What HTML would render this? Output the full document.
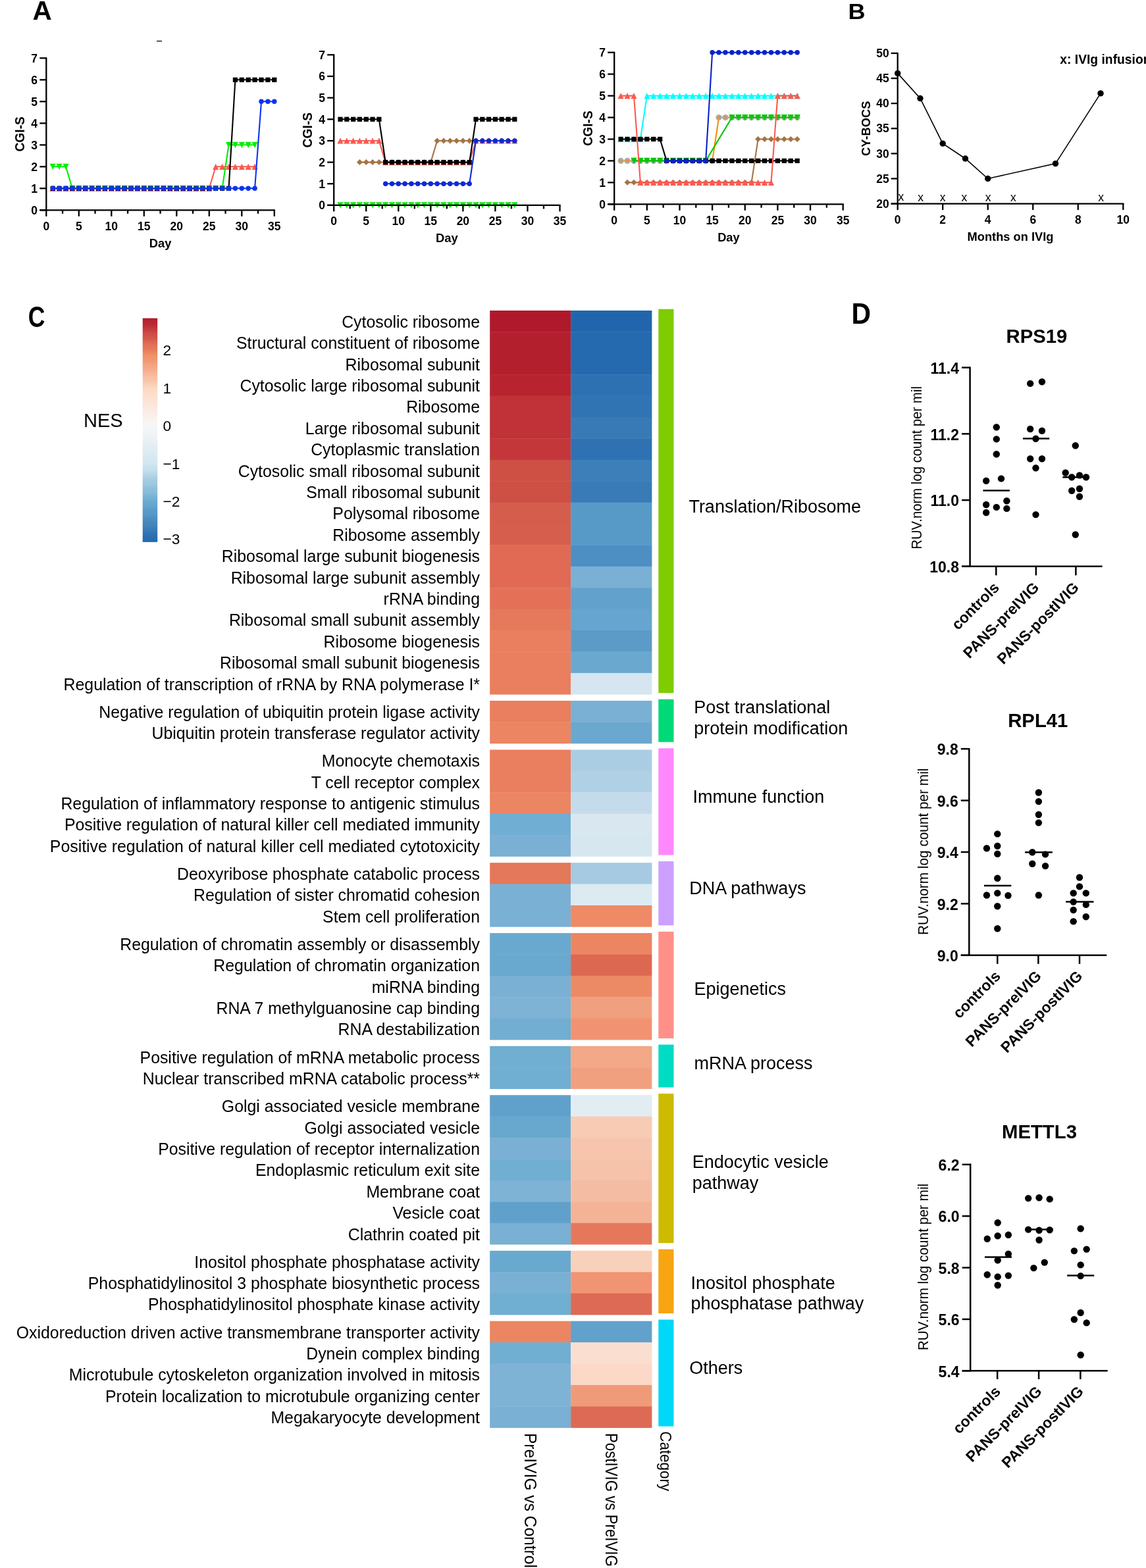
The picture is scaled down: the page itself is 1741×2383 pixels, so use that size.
<!DOCTYPE html>
<html lang="en"><head><meta charset="utf-8"><title>Figure</title>
<style>
html,body{margin:0;padding:0;background:#fff;width:1741px;height:2383px;overflow:hidden;}
svg{display:block;}
text{font-family:"Liberation Sans", Arial, Helvetica, sans-serif;fill:#000;}
</style></head><body>
<svg width="1741" height="2383" viewBox="0 0 1741 2383">
<rect x="0" y="0" width="1741" height="2383" fill="#fff"/>
<path d="M80.2 286.3 L90.1 286.3 L100 286.3 L109.9 286.3 L119.8 286.3 L129.7 286.3 L139.6 286.3 L149.5 286.3 L159.4 286.3 L169.3 286.3 L179.2 286.3 L189.1 286.3 L199 286.3 L208.9 286.3 L218.8 286.3 L228.7 286.3 L238.6 286.3 L248.5 286.3 L258.4 286.3 L268.3 286.3 L278.2 286.3 L288.1 286.3 L298 286.3 L307.9 286.3 L317.8 286.3 L327.7 253.3 L337.6 253.3 L347.5 253.3 L357.4 253.3 L367.3 253.3 L377.2 253.3 L387.1 253.3" fill="none" stroke="#fb5a50" stroke-width="2.1" stroke-linejoin="round"/>
<path d="M80.2 281.7L84.8 290.9L75.6 290.9Z" fill="#fb5a50"/>
<path d="M90.1 281.7L94.7 290.9L85.5 290.9Z" fill="#fb5a50"/>
<path d="M100 281.7L104.6 290.9L95.4 290.9Z" fill="#fb5a50"/>
<path d="M109.9 281.7L114.5 290.9L105.3 290.9Z" fill="#fb5a50"/>
<path d="M119.8 281.7L124.4 290.9L115.2 290.9Z" fill="#fb5a50"/>
<path d="M129.7 281.7L134.3 290.9L125.1 290.9Z" fill="#fb5a50"/>
<path d="M139.6 281.7L144.2 290.9L135 290.9Z" fill="#fb5a50"/>
<path d="M149.5 281.7L154.1 290.9L144.9 290.9Z" fill="#fb5a50"/>
<path d="M159.4 281.7L164 290.9L154.8 290.9Z" fill="#fb5a50"/>
<path d="M169.3 281.7L173.9 290.9L164.7 290.9Z" fill="#fb5a50"/>
<path d="M179.2 281.7L183.8 290.9L174.6 290.9Z" fill="#fb5a50"/>
<path d="M189.1 281.7L193.7 290.9L184.5 290.9Z" fill="#fb5a50"/>
<path d="M199 281.7L203.6 290.9L194.4 290.9Z" fill="#fb5a50"/>
<path d="M208.9 281.7L213.5 290.9L204.3 290.9Z" fill="#fb5a50"/>
<path d="M218.8 281.7L223.4 290.9L214.2 290.9Z" fill="#fb5a50"/>
<path d="M228.7 281.7L233.3 290.9L224.1 290.9Z" fill="#fb5a50"/>
<path d="M238.6 281.7L243.2 290.9L234 290.9Z" fill="#fb5a50"/>
<path d="M248.5 281.7L253.1 290.9L243.9 290.9Z" fill="#fb5a50"/>
<path d="M258.4 281.7L263 290.9L253.8 290.9Z" fill="#fb5a50"/>
<path d="M268.3 281.7L272.9 290.9L263.7 290.9Z" fill="#fb5a50"/>
<path d="M278.2 281.7L282.8 290.9L273.6 290.9Z" fill="#fb5a50"/>
<path d="M288.1 281.7L292.7 290.9L283.5 290.9Z" fill="#fb5a50"/>
<path d="M298 281.7L302.6 290.9L293.4 290.9Z" fill="#fb5a50"/>
<path d="M307.9 281.7L312.5 290.9L303.3 290.9Z" fill="#fb5a50"/>
<path d="M317.8 281.7L322.4 290.9L313.2 290.9Z" fill="#fb5a50"/>
<path d="M327.7 248.7L332.3 257.9L323.1 257.9Z" fill="#fb5a50"/>
<path d="M337.6 248.7L342.2 257.9L333 257.9Z" fill="#fb5a50"/>
<path d="M347.5 248.7L352.1 257.9L342.9 257.9Z" fill="#fb5a50"/>
<path d="M357.4 248.7L362 257.9L352.8 257.9Z" fill="#fb5a50"/>
<path d="M367.3 248.7L371.9 257.9L362.7 257.9Z" fill="#fb5a50"/>
<path d="M377.2 248.7L381.8 257.9L372.6 257.9Z" fill="#fb5a50"/>
<path d="M387.1 248.7L391.7 257.9L382.5 257.9Z" fill="#fb5a50"/>
<path d="M80.2 253.3 L90.1 253.3 L100 253.3 L109.9 286.3 L119.8 286.3 L129.7 286.3 L139.6 286.3 L149.5 286.3 L159.4 286.3 L169.3 286.3 L179.2 286.3 L189.1 286.3 L199 286.3 L208.9 286.3 L218.8 286.3 L228.7 286.3 L238.6 286.3 L248.5 286.3 L258.4 286.3 L268.3 286.3 L278.2 286.3 L288.1 286.3 L298 286.3 L307.9 286.3 L317.8 286.3 L327.7 286.3 L337.6 286.3 L347.5 220.3 L357.4 220.3 L367.3 220.3 L377.2 220.3 L387.1 220.3" fill="none" stroke="#00ee00" stroke-width="2.1" stroke-linejoin="round"/>
<path d="M75.6 248.7L84.8 248.7L80.2 257.9Z" fill="#00ee00"/>
<path d="M85.5 248.7L94.7 248.7L90.1 257.9Z" fill="#00ee00"/>
<path d="M95.4 248.7L104.6 248.7L100 257.9Z" fill="#00ee00"/>
<path d="M105.3 281.7L114.5 281.7L109.9 290.9Z" fill="#00ee00"/>
<path d="M115.2 281.7L124.4 281.7L119.8 290.9Z" fill="#00ee00"/>
<path d="M125.1 281.7L134.3 281.7L129.7 290.9Z" fill="#00ee00"/>
<path d="M135 281.7L144.2 281.7L139.6 290.9Z" fill="#00ee00"/>
<path d="M144.9 281.7L154.1 281.7L149.5 290.9Z" fill="#00ee00"/>
<path d="M154.8 281.7L164 281.7L159.4 290.9Z" fill="#00ee00"/>
<path d="M164.7 281.7L173.9 281.7L169.3 290.9Z" fill="#00ee00"/>
<path d="M174.6 281.7L183.8 281.7L179.2 290.9Z" fill="#00ee00"/>
<path d="M184.5 281.7L193.7 281.7L189.1 290.9Z" fill="#00ee00"/>
<path d="M194.4 281.7L203.6 281.7L199 290.9Z" fill="#00ee00"/>
<path d="M204.3 281.7L213.5 281.7L208.9 290.9Z" fill="#00ee00"/>
<path d="M214.2 281.7L223.4 281.7L218.8 290.9Z" fill="#00ee00"/>
<path d="M224.1 281.7L233.3 281.7L228.7 290.9Z" fill="#00ee00"/>
<path d="M234 281.7L243.2 281.7L238.6 290.9Z" fill="#00ee00"/>
<path d="M243.9 281.7L253.1 281.7L248.5 290.9Z" fill="#00ee00"/>
<path d="M253.8 281.7L263 281.7L258.4 290.9Z" fill="#00ee00"/>
<path d="M263.7 281.7L272.9 281.7L268.3 290.9Z" fill="#00ee00"/>
<path d="M273.6 281.7L282.8 281.7L278.2 290.9Z" fill="#00ee00"/>
<path d="M283.5 281.7L292.7 281.7L288.1 290.9Z" fill="#00ee00"/>
<path d="M293.4 281.7L302.6 281.7L298 290.9Z" fill="#00ee00"/>
<path d="M303.3 281.7L312.5 281.7L307.9 290.9Z" fill="#00ee00"/>
<path d="M313.2 281.7L322.4 281.7L317.8 290.9Z" fill="#00ee00"/>
<path d="M323.1 281.7L332.3 281.7L327.7 290.9Z" fill="#00ee00"/>
<path d="M333 281.7L342.2 281.7L337.6 290.9Z" fill="#00ee00"/>
<path d="M342.9 215.7L352.1 215.7L347.5 224.9Z" fill="#00ee00"/>
<path d="M352.8 215.7L362 215.7L357.4 224.9Z" fill="#00ee00"/>
<path d="M362.7 215.7L371.9 215.7L367.3 224.9Z" fill="#00ee00"/>
<path d="M372.6 215.7L381.8 215.7L377.2 224.9Z" fill="#00ee00"/>
<path d="M382.5 215.7L391.7 215.7L387.1 224.9Z" fill="#00ee00"/>
<path d="M80.2 286.3 L90.1 286.3 L100 286.3 L109.9 286.3 L119.8 286.3 L129.7 286.3 L139.6 286.3 L149.5 286.3 L159.4 286.3 L169.3 286.3 L179.2 286.3 L189.1 286.3 L199 286.3 L208.9 286.3 L218.8 286.3 L228.7 286.3 L238.6 286.3 L248.5 286.3 L258.4 286.3 L268.3 286.3 L278.2 286.3 L288.1 286.3 L298 286.3 L307.9 286.3 L317.8 286.3 L327.7 286.3 L337.6 286.3 L347.5 286.3 L357.4 121.3 L367.3 121.3 L377.2 121.3 L387.1 121.3 L397 121.3 L406.9 121.3 L416.8 121.3" fill="none" stroke="#000" stroke-width="2.1" stroke-linejoin="round"/>
<rect x="76.6" y="282.7" width="7.2" height="7.2" fill="#000"/>
<rect x="86.5" y="282.7" width="7.2" height="7.2" fill="#000"/>
<rect x="96.4" y="282.7" width="7.2" height="7.2" fill="#000"/>
<rect x="106.3" y="282.7" width="7.2" height="7.2" fill="#000"/>
<rect x="116.2" y="282.7" width="7.2" height="7.2" fill="#000"/>
<rect x="126.1" y="282.7" width="7.2" height="7.2" fill="#000"/>
<rect x="136" y="282.7" width="7.2" height="7.2" fill="#000"/>
<rect x="145.9" y="282.7" width="7.2" height="7.2" fill="#000"/>
<rect x="155.8" y="282.7" width="7.2" height="7.2" fill="#000"/>
<rect x="165.7" y="282.7" width="7.2" height="7.2" fill="#000"/>
<rect x="175.6" y="282.7" width="7.2" height="7.2" fill="#000"/>
<rect x="185.5" y="282.7" width="7.2" height="7.2" fill="#000"/>
<rect x="195.4" y="282.7" width="7.2" height="7.2" fill="#000"/>
<rect x="205.3" y="282.7" width="7.2" height="7.2" fill="#000"/>
<rect x="215.2" y="282.7" width="7.2" height="7.2" fill="#000"/>
<rect x="225.1" y="282.7" width="7.2" height="7.2" fill="#000"/>
<rect x="235" y="282.7" width="7.2" height="7.2" fill="#000"/>
<rect x="244.9" y="282.7" width="7.2" height="7.2" fill="#000"/>
<rect x="254.8" y="282.7" width="7.2" height="7.2" fill="#000"/>
<rect x="264.7" y="282.7" width="7.2" height="7.2" fill="#000"/>
<rect x="274.6" y="282.7" width="7.2" height="7.2" fill="#000"/>
<rect x="284.5" y="282.7" width="7.2" height="7.2" fill="#000"/>
<rect x="294.4" y="282.7" width="7.2" height="7.2" fill="#000"/>
<rect x="304.3" y="282.7" width="7.2" height="7.2" fill="#000"/>
<rect x="314.2" y="282.7" width="7.2" height="7.2" fill="#000"/>
<rect x="324.1" y="282.7" width="7.2" height="7.2" fill="#000"/>
<rect x="334" y="282.7" width="7.2" height="7.2" fill="#000"/>
<rect x="343.9" y="282.7" width="7.2" height="7.2" fill="#000"/>
<rect x="353.8" y="117.7" width="7.2" height="7.2" fill="#000"/>
<rect x="363.7" y="117.7" width="7.2" height="7.2" fill="#000"/>
<rect x="373.6" y="117.7" width="7.2" height="7.2" fill="#000"/>
<rect x="383.5" y="117.7" width="7.2" height="7.2" fill="#000"/>
<rect x="393.4" y="117.7" width="7.2" height="7.2" fill="#000"/>
<rect x="403.3" y="117.7" width="7.2" height="7.2" fill="#000"/>
<rect x="413.2" y="117.7" width="7.2" height="7.2" fill="#000"/>
<path d="M80.2 286.3 L90.1 286.3 L100 286.3 L109.9 286.3 L119.8 286.3 L129.7 286.3 L139.6 286.3 L149.5 286.3 L159.4 286.3 L169.3 286.3 L179.2 286.3 L189.1 286.3 L199 286.3 L208.9 286.3 L218.8 286.3 L228.7 286.3 L238.6 286.3 L248.5 286.3 L258.4 286.3 L268.3 286.3 L278.2 286.3 L288.1 286.3 L298 286.3 L307.9 286.3 L317.8 286.3 L327.7 286.3 L337.6 286.3 L347.5 286.3 L357.4 286.3 L367.3 286.3 L377.2 286.3 L387.1 286.3 L397 154.3 L406.9 154.3 L416.8 154.3" fill="none" stroke="#0a33f5" stroke-width="2.1" stroke-linejoin="round"/>
<circle cx="80.2" cy="286.3" r="3.7" fill="#0a33f5"/>
<circle cx="90.1" cy="286.3" r="3.7" fill="#0a33f5"/>
<circle cx="100" cy="286.3" r="3.7" fill="#0a33f5"/>
<circle cx="109.9" cy="286.3" r="3.7" fill="#0a33f5"/>
<circle cx="119.8" cy="286.3" r="3.7" fill="#0a33f5"/>
<circle cx="129.7" cy="286.3" r="3.7" fill="#0a33f5"/>
<circle cx="139.6" cy="286.3" r="3.7" fill="#0a33f5"/>
<circle cx="149.5" cy="286.3" r="3.7" fill="#0a33f5"/>
<circle cx="159.4" cy="286.3" r="3.7" fill="#0a33f5"/>
<circle cx="169.3" cy="286.3" r="3.7" fill="#0a33f5"/>
<circle cx="179.2" cy="286.3" r="3.7" fill="#0a33f5"/>
<circle cx="189.1" cy="286.3" r="3.7" fill="#0a33f5"/>
<circle cx="199" cy="286.3" r="3.7" fill="#0a33f5"/>
<circle cx="208.9" cy="286.3" r="3.7" fill="#0a33f5"/>
<circle cx="218.8" cy="286.3" r="3.7" fill="#0a33f5"/>
<circle cx="228.7" cy="286.3" r="3.7" fill="#0a33f5"/>
<circle cx="238.6" cy="286.3" r="3.7" fill="#0a33f5"/>
<circle cx="248.5" cy="286.3" r="3.7" fill="#0a33f5"/>
<circle cx="258.4" cy="286.3" r="3.7" fill="#0a33f5"/>
<circle cx="268.3" cy="286.3" r="3.7" fill="#0a33f5"/>
<circle cx="278.2" cy="286.3" r="3.7" fill="#0a33f5"/>
<circle cx="288.1" cy="286.3" r="3.7" fill="#0a33f5"/>
<circle cx="298" cy="286.3" r="3.7" fill="#0a33f5"/>
<circle cx="307.9" cy="286.3" r="3.7" fill="#0a33f5"/>
<circle cx="317.8" cy="286.3" r="3.7" fill="#0a33f5"/>
<circle cx="327.7" cy="286.3" r="3.7" fill="#0a33f5"/>
<circle cx="337.6" cy="286.3" r="3.7" fill="#0a33f5"/>
<circle cx="347.5" cy="286.3" r="3.7" fill="#0a33f5"/>
<circle cx="357.4" cy="286.3" r="3.7" fill="#0a33f5"/>
<circle cx="367.3" cy="286.3" r="3.7" fill="#0a33f5"/>
<circle cx="377.2" cy="286.3" r="3.7" fill="#0a33f5"/>
<circle cx="387.1" cy="286.3" r="3.7" fill="#0a33f5"/>
<circle cx="397" cy="154.3" r="3.7" fill="#0a33f5"/>
<circle cx="406.9" cy="154.3" r="3.7" fill="#0a33f5"/>
<circle cx="416.8" cy="154.3" r="3.7" fill="#0a33f5"/>
<g stroke="#000" stroke-width="2.3" fill="none" stroke-linecap="butt">
<path d="M70.3 87.3 V320.4"/>
<path d="M60.3 319.3 H417.9"/>
<path d="M60.3 319.3 H70.3"/>
<path d="M60.3 286.3 H70.3"/>
<path d="M60.3 253.3 H70.3"/>
<path d="M60.3 220.3 H70.3"/>
<path d="M60.3 187.3 H70.3"/>
<path d="M60.3 154.3 H70.3"/>
<path d="M60.3 121.3 H70.3"/>
<path d="M60.3 88.3 H70.3"/>
<path d="M70.3 319.3 V328.8"/>
<path d="M95.05 319.3 V324.8"/>
<path d="M119.8 319.3 V328.8"/>
<path d="M144.55 319.3 V324.8"/>
<path d="M169.3 319.3 V328.8"/>
<path d="M194.05 319.3 V324.8"/>
<path d="M218.8 319.3 V328.8"/>
<path d="M243.55 319.3 V324.8"/>
<path d="M268.3 319.3 V328.8"/>
<path d="M293.05 319.3 V324.8"/>
<path d="M317.8 319.3 V328.8"/>
<path d="M342.55 319.3 V324.8"/>
<path d="M367.3 319.3 V328.8"/>
<path d="M392.05 319.3 V324.8"/>
<path d="M416.8 319.3 V328.8"/>
</g>
<text x="57.1" y="325.6" font-size="17.5" font-weight="bold" text-anchor="end">0</text>
<text x="57.1" y="292.6" font-size="17.5" font-weight="bold" text-anchor="end">1</text>
<text x="57.1" y="259.6" font-size="17.5" font-weight="bold" text-anchor="end">2</text>
<text x="57.1" y="226.6" font-size="17.5" font-weight="bold" text-anchor="end">3</text>
<text x="57.1" y="193.6" font-size="17.5" font-weight="bold" text-anchor="end">4</text>
<text x="57.1" y="160.6" font-size="17.5" font-weight="bold" text-anchor="end">5</text>
<text x="57.1" y="127.6" font-size="17.5" font-weight="bold" text-anchor="end">6</text>
<text x="57.1" y="94.6" font-size="17.5" font-weight="bold" text-anchor="end">7</text>
<text x="70.3" y="349.5" font-size="17.5" font-weight="bold" text-anchor="middle">0</text>
<text x="119.8" y="349.5" font-size="17.5" font-weight="bold" text-anchor="middle">5</text>
<text x="169.3" y="349.5" font-size="17.5" font-weight="bold" text-anchor="middle">10</text>
<text x="218.8" y="349.5" font-size="17.5" font-weight="bold" text-anchor="middle">15</text>
<text x="268.3" y="349.5" font-size="17.5" font-weight="bold" text-anchor="middle">20</text>
<text x="317.8" y="349.5" font-size="17.5" font-weight="bold" text-anchor="middle">25</text>
<text x="367.3" y="349.5" font-size="17.5" font-weight="bold" text-anchor="middle">30</text>
<text x="416.8" y="349.5" font-size="17.5" font-weight="bold" text-anchor="middle">35</text>
<text x="243.55" y="375.8" font-size="18.3" font-weight="bold" text-anchor="middle">Day</text>
<text x="36.7" y="203.8" font-size="19.3" font-weight="bold" text-anchor="middle" transform="rotate(-90 36.7 203.8)">CGI-S</text>
<path d="M517.01 311.9 L526.82 311.9 L536.63 311.9 L546.43 311.9 L556.24 311.9 L566.05 311.9 L575.86 311.9 L585.67 311.9 L595.48 311.9 L605.29 311.9 L615.09 311.9 L624.9 311.9 L634.71 311.9 L644.52 311.9 L654.33 311.9 L664.14 311.9 L673.95 311.9 L683.75 311.9 L693.56 311.9 L703.37 311.9 L713.18 311.9 L722.99 311.9 L732.8 311.9 L742.61 311.9 L752.41 311.9 L762.22 311.9 L772.03 311.9 L781.84 311.9" fill="none" stroke="#00ee00" stroke-width="2.1" stroke-linejoin="round"/>
<path d="M512.41 307.3L521.61 307.3L517.01 316.5Z" fill="#00ee00"/>
<path d="M522.22 307.3L531.42 307.3L526.82 316.5Z" fill="#00ee00"/>
<path d="M532.03 307.3L541.23 307.3L536.63 316.5Z" fill="#00ee00"/>
<path d="M541.83 307.3L551.03 307.3L546.43 316.5Z" fill="#00ee00"/>
<path d="M551.64 307.3L560.84 307.3L556.24 316.5Z" fill="#00ee00"/>
<path d="M561.45 307.3L570.65 307.3L566.05 316.5Z" fill="#00ee00"/>
<path d="M571.26 307.3L580.46 307.3L575.86 316.5Z" fill="#00ee00"/>
<path d="M581.07 307.3L590.27 307.3L585.67 316.5Z" fill="#00ee00"/>
<path d="M590.88 307.3L600.08 307.3L595.48 316.5Z" fill="#00ee00"/>
<path d="M600.69 307.3L609.89 307.3L605.29 316.5Z" fill="#00ee00"/>
<path d="M610.49 307.3L619.69 307.3L615.09 316.5Z" fill="#00ee00"/>
<path d="M620.3 307.3L629.5 307.3L624.9 316.5Z" fill="#00ee00"/>
<path d="M630.11 307.3L639.31 307.3L634.71 316.5Z" fill="#00ee00"/>
<path d="M639.92 307.3L649.12 307.3L644.52 316.5Z" fill="#00ee00"/>
<path d="M649.73 307.3L658.93 307.3L654.33 316.5Z" fill="#00ee00"/>
<path d="M659.54 307.3L668.74 307.3L664.14 316.5Z" fill="#00ee00"/>
<path d="M669.35 307.3L678.55 307.3L673.95 316.5Z" fill="#00ee00"/>
<path d="M679.15 307.3L688.35 307.3L683.75 316.5Z" fill="#00ee00"/>
<path d="M688.96 307.3L698.16 307.3L693.56 316.5Z" fill="#00ee00"/>
<path d="M698.77 307.3L707.97 307.3L703.37 316.5Z" fill="#00ee00"/>
<path d="M708.58 307.3L717.78 307.3L713.18 316.5Z" fill="#00ee00"/>
<path d="M718.39 307.3L727.59 307.3L722.99 316.5Z" fill="#00ee00"/>
<path d="M728.2 307.3L737.4 307.3L732.8 316.5Z" fill="#00ee00"/>
<path d="M738.01 307.3L747.21 307.3L742.61 316.5Z" fill="#00ee00"/>
<path d="M747.81 307.3L757.01 307.3L752.41 316.5Z" fill="#00ee00"/>
<path d="M757.62 307.3L766.82 307.3L762.22 316.5Z" fill="#00ee00"/>
<path d="M767.43 307.3L776.63 307.3L772.03 316.5Z" fill="#00ee00"/>
<path d="M777.24 307.3L786.44 307.3L781.84 316.5Z" fill="#00ee00"/>
<path d="M546.43 246.59 L556.24 246.59 L566.05 246.59 L575.86 246.59 L585.67 246.59 L595.48 246.59 L605.29 246.59 L615.09 246.59 L624.9 246.59 L634.71 246.59 L644.52 246.59 L654.33 246.59 L664.14 213.93 L673.95 213.93 L683.75 213.93 L693.56 213.93 L703.37 213.93 L713.18 213.93 L722.99 213.93 L732.8 213.93 L742.61 213.93 L752.41 213.93 L762.22 213.93 L772.03 213.93 L781.84 213.93" fill="none" stroke="#a57444" stroke-width="2.1" stroke-linejoin="round"/>
<path d="M546.43 242.09L550.93 246.59L546.43 251.09L541.93 246.59Z" fill="#a57444"/>
<path d="M556.24 242.09L560.74 246.59L556.24 251.09L551.74 246.59Z" fill="#a57444"/>
<path d="M566.05 242.09L570.55 246.59L566.05 251.09L561.55 246.59Z" fill="#a57444"/>
<path d="M575.86 242.09L580.36 246.59L575.86 251.09L571.36 246.59Z" fill="#a57444"/>
<path d="M585.67 242.09L590.17 246.59L585.67 251.09L581.17 246.59Z" fill="#a57444"/>
<path d="M595.48 242.09L599.98 246.59L595.48 251.09L590.98 246.59Z" fill="#a57444"/>
<path d="M605.29 242.09L609.79 246.59L605.29 251.09L600.79 246.59Z" fill="#a57444"/>
<path d="M615.09 242.09L619.59 246.59L615.09 251.09L610.59 246.59Z" fill="#a57444"/>
<path d="M624.9 242.09L629.4 246.59L624.9 251.09L620.4 246.59Z" fill="#a57444"/>
<path d="M634.71 242.09L639.21 246.59L634.71 251.09L630.21 246.59Z" fill="#a57444"/>
<path d="M644.52 242.09L649.02 246.59L644.52 251.09L640.02 246.59Z" fill="#a57444"/>
<path d="M654.33 242.09L658.83 246.59L654.33 251.09L649.83 246.59Z" fill="#a57444"/>
<path d="M664.14 209.43L668.64 213.93L664.14 218.43L659.64 213.93Z" fill="#a57444"/>
<path d="M673.95 209.43L678.45 213.93L673.95 218.43L669.45 213.93Z" fill="#a57444"/>
<path d="M683.75 209.43L688.25 213.93L683.75 218.43L679.25 213.93Z" fill="#a57444"/>
<path d="M693.56 209.43L698.06 213.93L693.56 218.43L689.06 213.93Z" fill="#a57444"/>
<path d="M703.37 209.43L707.87 213.93L703.37 218.43L698.87 213.93Z" fill="#a57444"/>
<path d="M713.18 209.43L717.68 213.93L713.18 218.43L708.68 213.93Z" fill="#a57444"/>
<path d="M722.99 209.43L727.49 213.93L722.99 218.43L718.49 213.93Z" fill="#a57444"/>
<path d="M732.8 209.43L737.3 213.93L732.8 218.43L728.3 213.93Z" fill="#a57444"/>
<path d="M742.61 209.43L747.11 213.93L742.61 218.43L738.11 213.93Z" fill="#a57444"/>
<path d="M752.41 209.43L756.91 213.93L752.41 218.43L747.91 213.93Z" fill="#a57444"/>
<path d="M762.22 209.43L766.72 213.93L762.22 218.43L757.72 213.93Z" fill="#a57444"/>
<path d="M772.03 209.43L776.53 213.93L772.03 218.43L767.53 213.93Z" fill="#a57444"/>
<path d="M781.84 209.43L786.34 213.93L781.84 218.43L777.34 213.93Z" fill="#a57444"/>
<path d="M517.01 213.93 L526.82 213.93 L536.63 213.93 L546.43 213.93 L556.24 213.93 L566.05 213.93 L575.86 213.93 L585.67 246.59 L595.48 246.59 L605.29 246.59 L615.09 246.59 L624.9 246.59 L634.71 246.59 L644.52 246.59 L654.33 246.59 L664.14 246.59 L673.95 246.59 L683.75 246.59 L693.56 246.59 L703.37 246.59 L713.18 246.59 L722.99 213.93 L732.8 213.93 L742.61 213.93 L752.41 213.93 L762.22 213.93 L772.03 213.93 L781.84 213.93" fill="none" stroke="#fb5a50" stroke-width="2.1" stroke-linejoin="round"/>
<path d="M517.01 209.33L521.61 218.53L512.41 218.53Z" fill="#fb5a50"/>
<path d="M526.82 209.33L531.42 218.53L522.22 218.53Z" fill="#fb5a50"/>
<path d="M536.63 209.33L541.23 218.53L532.03 218.53Z" fill="#fb5a50"/>
<path d="M546.43 209.33L551.03 218.53L541.83 218.53Z" fill="#fb5a50"/>
<path d="M556.24 209.33L560.84 218.53L551.64 218.53Z" fill="#fb5a50"/>
<path d="M566.05 209.33L570.65 218.53L561.45 218.53Z" fill="#fb5a50"/>
<path d="M575.86 209.33L580.46 218.53L571.26 218.53Z" fill="#fb5a50"/>
<path d="M585.67 241.99L590.27 251.19L581.07 251.19Z" fill="#fb5a50"/>
<path d="M595.48 241.99L600.08 251.19L590.88 251.19Z" fill="#fb5a50"/>
<path d="M605.29 241.99L609.89 251.19L600.69 251.19Z" fill="#fb5a50"/>
<path d="M615.09 241.99L619.69 251.19L610.49 251.19Z" fill="#fb5a50"/>
<path d="M624.9 241.99L629.5 251.19L620.3 251.19Z" fill="#fb5a50"/>
<path d="M634.71 241.99L639.31 251.19L630.11 251.19Z" fill="#fb5a50"/>
<path d="M644.52 241.99L649.12 251.19L639.92 251.19Z" fill="#fb5a50"/>
<path d="M654.33 241.99L658.93 251.19L649.73 251.19Z" fill="#fb5a50"/>
<path d="M664.14 241.99L668.74 251.19L659.54 251.19Z" fill="#fb5a50"/>
<path d="M673.95 241.99L678.55 251.19L669.35 251.19Z" fill="#fb5a50"/>
<path d="M683.75 241.99L688.35 251.19L679.15 251.19Z" fill="#fb5a50"/>
<path d="M693.56 241.99L698.16 251.19L688.96 251.19Z" fill="#fb5a50"/>
<path d="M703.37 241.99L707.97 251.19L698.77 251.19Z" fill="#fb5a50"/>
<path d="M713.18 241.99L717.78 251.19L708.58 251.19Z" fill="#fb5a50"/>
<path d="M722.99 209.33L727.59 218.53L718.39 218.53Z" fill="#fb5a50"/>
<path d="M732.8 209.33L737.4 218.53L728.2 218.53Z" fill="#fb5a50"/>
<path d="M742.61 209.33L747.21 218.53L738.01 218.53Z" fill="#fb5a50"/>
<path d="M752.41 209.33L757.01 218.53L747.81 218.53Z" fill="#fb5a50"/>
<path d="M762.22 209.33L766.82 218.53L757.62 218.53Z" fill="#fb5a50"/>
<path d="M772.03 209.33L776.63 218.53L767.43 218.53Z" fill="#fb5a50"/>
<path d="M781.84 209.33L786.44 218.53L777.24 218.53Z" fill="#fb5a50"/>
<path d="M517.01 181.27 L526.82 181.27 L536.63 181.27 L546.43 181.27 L556.24 181.27 L566.05 181.27 L575.86 181.27 L585.67 246.59 L595.48 246.59 L605.29 246.59 L615.09 246.59 L624.9 246.59 L634.71 246.59 L644.52 246.59 L654.33 246.59 L664.14 246.59 L673.95 246.59 L683.75 246.59 L693.56 246.59 L703.37 246.59 L713.18 246.59 L722.99 181.27 L732.8 181.27 L742.61 181.27 L752.41 181.27 L762.22 181.27 L772.03 181.27 L781.84 181.27" fill="none" stroke="#000" stroke-width="2.1" stroke-linejoin="round"/>
<rect x="513.41" y="177.67" width="7.2" height="7.2" fill="#000"/>
<rect x="523.22" y="177.67" width="7.2" height="7.2" fill="#000"/>
<rect x="533.03" y="177.67" width="7.2" height="7.2" fill="#000"/>
<rect x="542.83" y="177.67" width="7.2" height="7.2" fill="#000"/>
<rect x="552.64" y="177.67" width="7.2" height="7.2" fill="#000"/>
<rect x="562.45" y="177.67" width="7.2" height="7.2" fill="#000"/>
<rect x="572.26" y="177.67" width="7.2" height="7.2" fill="#000"/>
<rect x="582.07" y="242.99" width="7.2" height="7.2" fill="#000"/>
<rect x="591.88" y="242.99" width="7.2" height="7.2" fill="#000"/>
<rect x="601.69" y="242.99" width="7.2" height="7.2" fill="#000"/>
<rect x="611.49" y="242.99" width="7.2" height="7.2" fill="#000"/>
<rect x="621.3" y="242.99" width="7.2" height="7.2" fill="#000"/>
<rect x="631.11" y="242.99" width="7.2" height="7.2" fill="#000"/>
<rect x="640.92" y="242.99" width="7.2" height="7.2" fill="#000"/>
<rect x="650.73" y="242.99" width="7.2" height="7.2" fill="#000"/>
<rect x="660.54" y="242.99" width="7.2" height="7.2" fill="#000"/>
<rect x="670.35" y="242.99" width="7.2" height="7.2" fill="#000"/>
<rect x="680.15" y="242.99" width="7.2" height="7.2" fill="#000"/>
<rect x="689.96" y="242.99" width="7.2" height="7.2" fill="#000"/>
<rect x="699.77" y="242.99" width="7.2" height="7.2" fill="#000"/>
<rect x="709.58" y="242.99" width="7.2" height="7.2" fill="#000"/>
<rect x="719.39" y="177.67" width="7.2" height="7.2" fill="#000"/>
<rect x="729.2" y="177.67" width="7.2" height="7.2" fill="#000"/>
<rect x="739.01" y="177.67" width="7.2" height="7.2" fill="#000"/>
<rect x="748.81" y="177.67" width="7.2" height="7.2" fill="#000"/>
<rect x="758.62" y="177.67" width="7.2" height="7.2" fill="#000"/>
<rect x="768.43" y="177.67" width="7.2" height="7.2" fill="#000"/>
<rect x="778.24" y="177.67" width="7.2" height="7.2" fill="#000"/>
<path d="M585.67 279.24 L595.48 279.24 L605.29 279.24 L615.09 279.24 L624.9 279.24 L634.71 279.24 L644.52 279.24 L654.33 279.24 L664.14 279.24 L673.95 279.24 L683.75 279.24 L693.56 279.24 L703.37 279.24 L713.18 279.24 L722.99 213.93 L732.8 213.93 L742.61 213.93 L752.41 213.93 L762.22 213.93 L772.03 213.93 L781.84 213.93" fill="none" stroke="#0c2ad4" stroke-width="2.1" stroke-linejoin="round"/>
<circle cx="585.67" cy="279.24" r="3.7" fill="#0c2ad4"/>
<circle cx="595.48" cy="279.24" r="3.7" fill="#0c2ad4"/>
<circle cx="605.29" cy="279.24" r="3.7" fill="#0c2ad4"/>
<circle cx="615.09" cy="279.24" r="3.7" fill="#0c2ad4"/>
<circle cx="624.9" cy="279.24" r="3.7" fill="#0c2ad4"/>
<circle cx="634.71" cy="279.24" r="3.7" fill="#0c2ad4"/>
<circle cx="644.52" cy="279.24" r="3.7" fill="#0c2ad4"/>
<circle cx="654.33" cy="279.24" r="3.7" fill="#0c2ad4"/>
<circle cx="664.14" cy="279.24" r="3.7" fill="#0c2ad4"/>
<circle cx="673.95" cy="279.24" r="3.7" fill="#0c2ad4"/>
<circle cx="683.75" cy="279.24" r="3.7" fill="#0c2ad4"/>
<circle cx="693.56" cy="279.24" r="3.7" fill="#0c2ad4"/>
<circle cx="703.37" cy="279.24" r="3.7" fill="#0c2ad4"/>
<circle cx="713.18" cy="279.24" r="3.7" fill="#0c2ad4"/>
<circle cx="722.99" cy="213.93" r="3.7" fill="#0c2ad4"/>
<circle cx="732.8" cy="213.93" r="3.7" fill="#0c2ad4"/>
<circle cx="742.61" cy="213.93" r="3.7" fill="#0c2ad4"/>
<circle cx="752.41" cy="213.93" r="3.7" fill="#0c2ad4"/>
<circle cx="762.22" cy="213.93" r="3.7" fill="#0c2ad4"/>
<circle cx="772.03" cy="213.93" r="3.7" fill="#0c2ad4"/>
<circle cx="781.84" cy="213.93" r="3.7" fill="#0c2ad4"/>
<g stroke="#000" stroke-width="2.3" fill="none" stroke-linecap="butt">
<path d="M507.2 82.3 V313"/>
<path d="M497.2 311.9 H851.6"/>
<path d="M497.2 311.9 H507.2"/>
<path d="M497.2 279.24 H507.2"/>
<path d="M497.2 246.59 H507.2"/>
<path d="M497.2 213.93 H507.2"/>
<path d="M497.2 181.27 H507.2"/>
<path d="M497.2 148.61 H507.2"/>
<path d="M497.2 115.96 H507.2"/>
<path d="M497.2 83.3 H507.2"/>
<path d="M507.2 311.9 V321.4"/>
<path d="M531.72 311.9 V317.4"/>
<path d="M556.24 311.9 V321.4"/>
<path d="M580.76 311.9 V317.4"/>
<path d="M605.29 311.9 V321.4"/>
<path d="M629.81 311.9 V317.4"/>
<path d="M654.33 311.9 V321.4"/>
<path d="M678.85 311.9 V317.4"/>
<path d="M703.37 311.9 V321.4"/>
<path d="M727.89 311.9 V317.4"/>
<path d="M752.41 311.9 V321.4"/>
<path d="M776.94 311.9 V317.4"/>
<path d="M801.46 311.9 V321.4"/>
<path d="M825.98 311.9 V317.4"/>
<path d="M850.5 311.9 V321.4"/>
</g>
<text x="494" y="318.2" font-size="17.5" font-weight="bold" text-anchor="end">0</text>
<text x="494" y="285.54" font-size="17.5" font-weight="bold" text-anchor="end">1</text>
<text x="494" y="252.89" font-size="17.5" font-weight="bold" text-anchor="end">2</text>
<text x="494" y="220.23" font-size="17.5" font-weight="bold" text-anchor="end">3</text>
<text x="494" y="187.57" font-size="17.5" font-weight="bold" text-anchor="end">4</text>
<text x="494" y="154.91" font-size="17.5" font-weight="bold" text-anchor="end">5</text>
<text x="494" y="122.26" font-size="17.5" font-weight="bold" text-anchor="end">6</text>
<text x="494" y="89.6" font-size="17.5" font-weight="bold" text-anchor="end">7</text>
<text x="507.2" y="342.1" font-size="17.5" font-weight="bold" text-anchor="middle">0</text>
<text x="556.24" y="342.1" font-size="17.5" font-weight="bold" text-anchor="middle">5</text>
<text x="605.29" y="342.1" font-size="17.5" font-weight="bold" text-anchor="middle">10</text>
<text x="654.33" y="342.1" font-size="17.5" font-weight="bold" text-anchor="middle">15</text>
<text x="703.37" y="342.1" font-size="17.5" font-weight="bold" text-anchor="middle">20</text>
<text x="752.41" y="342.1" font-size="17.5" font-weight="bold" text-anchor="middle">25</text>
<text x="801.46" y="342.1" font-size="17.5" font-weight="bold" text-anchor="middle">30</text>
<text x="850.5" y="342.1" font-size="17.5" font-weight="bold" text-anchor="middle">35</text>
<text x="678.85" y="368.4" font-size="18.3" font-weight="bold" text-anchor="middle">Day</text>
<text x="473.6" y="197.6" font-size="19.3" font-weight="bold" text-anchor="middle" transform="rotate(-90 473.6 197.6)">CGI-S</text>
<path d="M943.13 244.41 L953.06 244.41 L962.99 244.41 L972.91 244.41 L982.84 244.41 L992.77 244.41 L1002.7 244.41 L1012.63 244.41 L1022.56 244.41 L1032.49 244.41 L1042.41 244.41 L1052.34 244.41 L1062.27 244.41 L1072.2 244.41 L1082.13 244.41 L1092.06 178.53 L1101.99 178.53 L1111.91 178.53 L1121.84 178.53 L1131.77 178.53 L1141.7 178.53 L1151.63 178.53 L1161.56 178.53 L1171.49 178.53 L1181.41 178.53 L1191.34 178.53 L1201.27 178.53 L1211.2 178.53" fill="none" stroke="#ff8c00" stroke-width="2.1" stroke-linejoin="round"/>
<circle cx="943.13" cy="244.41" r="4.6" fill="#ababab"/>
<circle cx="943.13" cy="244.41" r="1.9" fill="#ff8c00"/>
<circle cx="953.06" cy="244.41" r="4.6" fill="#ababab"/>
<circle cx="953.06" cy="244.41" r="1.9" fill="#ff8c00"/>
<circle cx="962.99" cy="244.41" r="4.6" fill="#ababab"/>
<circle cx="962.99" cy="244.41" r="1.9" fill="#ff8c00"/>
<circle cx="972.91" cy="244.41" r="4.6" fill="#ababab"/>
<circle cx="972.91" cy="244.41" r="1.9" fill="#ff8c00"/>
<circle cx="982.84" cy="244.41" r="4.6" fill="#ababab"/>
<circle cx="982.84" cy="244.41" r="1.9" fill="#ff8c00"/>
<circle cx="992.77" cy="244.41" r="4.6" fill="#ababab"/>
<circle cx="992.77" cy="244.41" r="1.9" fill="#ff8c00"/>
<circle cx="1002.7" cy="244.41" r="4.6" fill="#ababab"/>
<circle cx="1002.7" cy="244.41" r="1.9" fill="#ff8c00"/>
<circle cx="1012.63" cy="244.41" r="4.6" fill="#ababab"/>
<circle cx="1012.63" cy="244.41" r="1.9" fill="#ff8c00"/>
<circle cx="1022.56" cy="244.41" r="4.6" fill="#ababab"/>
<circle cx="1022.56" cy="244.41" r="1.9" fill="#ff8c00"/>
<circle cx="1032.49" cy="244.41" r="4.6" fill="#ababab"/>
<circle cx="1032.49" cy="244.41" r="1.9" fill="#ff8c00"/>
<circle cx="1042.41" cy="244.41" r="4.6" fill="#ababab"/>
<circle cx="1042.41" cy="244.41" r="1.9" fill="#ff8c00"/>
<circle cx="1052.34" cy="244.41" r="4.6" fill="#ababab"/>
<circle cx="1052.34" cy="244.41" r="1.9" fill="#ff8c00"/>
<circle cx="1062.27" cy="244.41" r="4.6" fill="#ababab"/>
<circle cx="1062.27" cy="244.41" r="1.9" fill="#ff8c00"/>
<circle cx="1072.2" cy="244.41" r="4.6" fill="#ababab"/>
<circle cx="1072.2" cy="244.41" r="1.9" fill="#ff8c00"/>
<circle cx="1082.13" cy="244.41" r="4.6" fill="#ababab"/>
<circle cx="1082.13" cy="244.41" r="1.9" fill="#ff8c00"/>
<circle cx="1092.06" cy="178.53" r="4.6" fill="#ababab"/>
<circle cx="1092.06" cy="178.53" r="1.9" fill="#ff8c00"/>
<circle cx="1101.99" cy="178.53" r="4.6" fill="#ababab"/>
<circle cx="1101.99" cy="178.53" r="1.9" fill="#ff8c00"/>
<circle cx="1111.91" cy="178.53" r="4.6" fill="#ababab"/>
<circle cx="1111.91" cy="178.53" r="1.9" fill="#ff8c00"/>
<circle cx="1121.84" cy="178.53" r="4.6" fill="#ababab"/>
<circle cx="1121.84" cy="178.53" r="1.9" fill="#ff8c00"/>
<circle cx="1131.77" cy="178.53" r="4.6" fill="#ababab"/>
<circle cx="1131.77" cy="178.53" r="1.9" fill="#ff8c00"/>
<circle cx="1141.7" cy="178.53" r="4.6" fill="#ababab"/>
<circle cx="1141.7" cy="178.53" r="1.9" fill="#ff8c00"/>
<circle cx="1151.63" cy="178.53" r="4.6" fill="#ababab"/>
<circle cx="1151.63" cy="178.53" r="1.9" fill="#ff8c00"/>
<circle cx="1161.56" cy="178.53" r="4.6" fill="#ababab"/>
<circle cx="1161.56" cy="178.53" r="1.9" fill="#ff8c00"/>
<circle cx="1171.49" cy="178.53" r="4.6" fill="#ababab"/>
<circle cx="1171.49" cy="178.53" r="1.9" fill="#ff8c00"/>
<circle cx="1181.41" cy="178.53" r="4.6" fill="#ababab"/>
<circle cx="1181.41" cy="178.53" r="1.9" fill="#ff8c00"/>
<circle cx="1191.34" cy="178.53" r="4.6" fill="#ababab"/>
<circle cx="1191.34" cy="178.53" r="1.9" fill="#ff8c00"/>
<circle cx="1201.27" cy="178.53" r="4.6" fill="#ababab"/>
<circle cx="1201.27" cy="178.53" r="1.9" fill="#ff8c00"/>
<circle cx="1211.2" cy="178.53" r="4.6" fill="#ababab"/>
<circle cx="1211.2" cy="178.53" r="1.9" fill="#ff8c00"/>
<path d="M953.06 277.36 L962.99 277.36 L972.91 277.36 L982.84 277.36 L992.77 277.36 L1002.7 277.36 L1012.63 277.36 L1022.56 277.36 L1032.49 277.36 L1042.41 277.36 L1052.34 277.36 L1062.27 277.36 L1072.2 277.36 L1082.13 277.36 L1092.06 277.36 L1101.99 277.36 L1111.91 277.36 L1121.84 277.36 L1131.77 277.36 L1141.7 277.36 L1151.63 211.47 L1161.56 211.47 L1171.49 211.47 L1181.41 211.47 L1191.34 211.47 L1201.27 211.47 L1211.2 211.47" fill="none" stroke="#a57444" stroke-width="2.1" stroke-linejoin="round"/>
<path d="M953.06 272.86L957.56 277.36L953.06 281.86L948.56 277.36Z" fill="#a57444"/>
<path d="M962.99 272.86L967.49 277.36L962.99 281.86L958.49 277.36Z" fill="#a57444"/>
<path d="M972.91 272.86L977.41 277.36L972.91 281.86L968.41 277.36Z" fill="#a57444"/>
<path d="M982.84 272.86L987.34 277.36L982.84 281.86L978.34 277.36Z" fill="#a57444"/>
<path d="M992.77 272.86L997.27 277.36L992.77 281.86L988.27 277.36Z" fill="#a57444"/>
<path d="M1002.7 272.86L1007.2 277.36L1002.7 281.86L998.2 277.36Z" fill="#a57444"/>
<path d="M1012.63 272.86L1017.13 277.36L1012.63 281.86L1008.13 277.36Z" fill="#a57444"/>
<path d="M1022.56 272.86L1027.06 277.36L1022.56 281.86L1018.06 277.36Z" fill="#a57444"/>
<path d="M1032.49 272.86L1036.99 277.36L1032.49 281.86L1027.99 277.36Z" fill="#a57444"/>
<path d="M1042.41 272.86L1046.91 277.36L1042.41 281.86L1037.91 277.36Z" fill="#a57444"/>
<path d="M1052.34 272.86L1056.84 277.36L1052.34 281.86L1047.84 277.36Z" fill="#a57444"/>
<path d="M1062.27 272.86L1066.77 277.36L1062.27 281.86L1057.77 277.36Z" fill="#a57444"/>
<path d="M1072.2 272.86L1076.7 277.36L1072.2 281.86L1067.7 277.36Z" fill="#a57444"/>
<path d="M1082.13 272.86L1086.63 277.36L1082.13 281.86L1077.63 277.36Z" fill="#a57444"/>
<path d="M1092.06 272.86L1096.56 277.36L1092.06 281.86L1087.56 277.36Z" fill="#a57444"/>
<path d="M1101.99 272.86L1106.49 277.36L1101.99 281.86L1097.49 277.36Z" fill="#a57444"/>
<path d="M1111.91 272.86L1116.41 277.36L1111.91 281.86L1107.41 277.36Z" fill="#a57444"/>
<path d="M1121.84 272.86L1126.34 277.36L1121.84 281.86L1117.34 277.36Z" fill="#a57444"/>
<path d="M1131.77 272.86L1136.27 277.36L1131.77 281.86L1127.27 277.36Z" fill="#a57444"/>
<path d="M1141.7 272.86L1146.2 277.36L1141.7 281.86L1137.2 277.36Z" fill="#a57444"/>
<path d="M1151.63 206.97L1156.13 211.47L1151.63 215.97L1147.13 211.47Z" fill="#a57444"/>
<path d="M1161.56 206.97L1166.06 211.47L1161.56 215.97L1157.06 211.47Z" fill="#a57444"/>
<path d="M1171.49 206.97L1175.99 211.47L1171.49 215.97L1166.99 211.47Z" fill="#a57444"/>
<path d="M1181.41 206.97L1185.91 211.47L1181.41 215.97L1176.91 211.47Z" fill="#a57444"/>
<path d="M1191.34 206.97L1195.84 211.47L1191.34 215.97L1186.84 211.47Z" fill="#a57444"/>
<path d="M1201.27 206.97L1205.77 211.47L1201.27 215.97L1196.77 211.47Z" fill="#a57444"/>
<path d="M1211.2 206.97L1215.7 211.47L1211.2 215.97L1206.7 211.47Z" fill="#a57444"/>
<path d="M962.99 244.41 L972.91 244.41 L982.84 244.41 L992.77 244.41 L1002.7 244.41 L1012.63 244.41 L1022.56 244.41 L1032.49 244.41 L1042.41 244.41 L1052.34 244.41 L1062.27 244.41 L1072.2 244.41 L1111.91 178.53 L1121.84 178.53 L1131.77 178.53 L1141.7 178.53 L1151.63 178.53 L1161.56 178.53 L1171.49 178.53 L1181.41 178.53 L1191.34 178.53 L1201.27 178.53 L1211.2 178.53" fill="none" stroke="#00c800" stroke-width="2.1" stroke-linejoin="round"/>
<path d="M958.39 239.81L967.59 239.81L962.99 249.01Z" fill="#00c800"/>
<path d="M968.31 239.81L977.51 239.81L972.91 249.01Z" fill="#00c800"/>
<path d="M978.24 239.81L987.44 239.81L982.84 249.01Z" fill="#00c800"/>
<path d="M988.17 239.81L997.37 239.81L992.77 249.01Z" fill="#00c800"/>
<path d="M998.1 239.81L1007.3 239.81L1002.7 249.01Z" fill="#00c800"/>
<path d="M1008.03 239.81L1017.23 239.81L1012.63 249.01Z" fill="#00c800"/>
<path d="M1017.96 239.81L1027.16 239.81L1022.56 249.01Z" fill="#00c800"/>
<path d="M1027.89 239.81L1037.09 239.81L1032.49 249.01Z" fill="#00c800"/>
<path d="M1037.81 239.81L1047.01 239.81L1042.41 249.01Z" fill="#00c800"/>
<path d="M1047.74 239.81L1056.94 239.81L1052.34 249.01Z" fill="#00c800"/>
<path d="M1057.67 239.81L1066.87 239.81L1062.27 249.01Z" fill="#00c800"/>
<path d="M1067.6 239.81L1076.8 239.81L1072.2 249.01Z" fill="#00c800"/>
<path d="M1107.31 173.93L1116.51 173.93L1111.91 183.13Z" fill="#00c800"/>
<path d="M1117.24 173.93L1126.44 173.93L1121.84 183.13Z" fill="#00c800"/>
<path d="M1127.17 173.93L1136.37 173.93L1131.77 183.13Z" fill="#00c800"/>
<path d="M1137.1 173.93L1146.3 173.93L1141.7 183.13Z" fill="#00c800"/>
<path d="M1147.03 173.93L1156.23 173.93L1151.63 183.13Z" fill="#00c800"/>
<path d="M1156.96 173.93L1166.16 173.93L1161.56 183.13Z" fill="#00c800"/>
<path d="M1166.89 173.93L1176.09 173.93L1171.49 183.13Z" fill="#00c800"/>
<path d="M1176.81 173.93L1186.01 173.93L1181.41 183.13Z" fill="#00c800"/>
<path d="M1186.74 173.93L1195.94 173.93L1191.34 183.13Z" fill="#00c800"/>
<path d="M1196.67 173.93L1205.87 173.93L1201.27 183.13Z" fill="#00c800"/>
<path d="M1206.6 173.93L1215.8 173.93L1211.2 183.13Z" fill="#00c800"/>
<path d="M943.13 211.47 L953.06 211.47 L962.99 211.47 L972.91 211.47 L982.84 145.59 L992.77 145.59 L1002.7 145.59 L1012.63 145.59 L1022.56 145.59 L1032.49 145.59 L1042.41 145.59 L1052.34 145.59 L1062.27 145.59 L1072.2 145.59 L1082.13 145.59 L1092.06 145.59 L1101.99 145.59 L1111.91 145.59 L1121.84 145.59 L1131.77 145.59 L1141.7 145.59 L1151.63 145.59 L1161.56 145.59 L1171.49 145.59 L1181.41 145.59 L1191.34 145.59 L1201.27 145.59 L1211.2 145.59" fill="none" stroke="#00ffff" stroke-width="2.1" stroke-linejoin="round"/>
<path d="M943.13 206.87L947.73 216.07L938.53 216.07Z" fill="#00ffff"/>
<path d="M953.06 206.87L957.66 216.07L948.46 216.07Z" fill="#00ffff"/>
<path d="M962.99 206.87L967.59 216.07L958.39 216.07Z" fill="#00ffff"/>
<path d="M972.91 206.87L977.51 216.07L968.31 216.07Z" fill="#00ffff"/>
<path d="M982.84 140.99L987.44 150.19L978.24 150.19Z" fill="#00ffff"/>
<path d="M992.77 140.99L997.37 150.19L988.17 150.19Z" fill="#00ffff"/>
<path d="M1002.7 140.99L1007.3 150.19L998.1 150.19Z" fill="#00ffff"/>
<path d="M1012.63 140.99L1017.23 150.19L1008.03 150.19Z" fill="#00ffff"/>
<path d="M1022.56 140.99L1027.16 150.19L1017.96 150.19Z" fill="#00ffff"/>
<path d="M1032.49 140.99L1037.09 150.19L1027.89 150.19Z" fill="#00ffff"/>
<path d="M1042.41 140.99L1047.01 150.19L1037.81 150.19Z" fill="#00ffff"/>
<path d="M1052.34 140.99L1056.94 150.19L1047.74 150.19Z" fill="#00ffff"/>
<path d="M1062.27 140.99L1066.87 150.19L1057.67 150.19Z" fill="#00ffff"/>
<path d="M1072.2 140.99L1076.8 150.19L1067.6 150.19Z" fill="#00ffff"/>
<path d="M1082.13 140.99L1086.73 150.19L1077.53 150.19Z" fill="#00ffff"/>
<path d="M1092.06 140.99L1096.66 150.19L1087.46 150.19Z" fill="#00ffff"/>
<path d="M1101.99 140.99L1106.59 150.19L1097.39 150.19Z" fill="#00ffff"/>
<path d="M1111.91 140.99L1116.51 150.19L1107.31 150.19Z" fill="#00ffff"/>
<path d="M1121.84 140.99L1126.44 150.19L1117.24 150.19Z" fill="#00ffff"/>
<path d="M1131.77 140.99L1136.37 150.19L1127.17 150.19Z" fill="#00ffff"/>
<path d="M1141.7 140.99L1146.3 150.19L1137.1 150.19Z" fill="#00ffff"/>
<path d="M1151.63 140.99L1156.23 150.19L1147.03 150.19Z" fill="#00ffff"/>
<path d="M1161.56 140.99L1166.16 150.19L1156.96 150.19Z" fill="#00ffff"/>
<path d="M1171.49 140.99L1176.09 150.19L1166.89 150.19Z" fill="#00ffff"/>
<path d="M1181.41 140.99L1186.01 150.19L1176.81 150.19Z" fill="#00ffff"/>
<path d="M1191.34 140.99L1195.94 150.19L1186.74 150.19Z" fill="#00ffff"/>
<path d="M1201.27 140.99L1205.87 150.19L1196.67 150.19Z" fill="#00ffff"/>
<path d="M1211.2 140.99L1215.8 150.19L1206.6 150.19Z" fill="#00ffff"/>
<path d="M943.13 211.47 L953.06 211.47 L962.99 211.47 L972.91 211.47 L982.84 211.47 L992.77 211.47 L1002.7 211.47 L1012.63 244.41 L1022.56 244.41 L1032.49 244.41 L1042.41 244.41 L1052.34 244.41 L1062.27 244.41 L1072.2 244.41 L1082.13 244.41 L1092.06 244.41 L1101.99 244.41 L1111.91 244.41 L1121.84 244.41 L1131.77 244.41 L1141.7 244.41 L1151.63 244.41 L1161.56 244.41 L1171.49 244.41 L1181.41 244.41 L1191.34 244.41 L1201.27 244.41 L1211.2 244.41" fill="none" stroke="#000" stroke-width="2.1" stroke-linejoin="round"/>
<rect x="939.53" y="207.87" width="7.2" height="7.2" fill="#000"/>
<rect x="949.46" y="207.87" width="7.2" height="7.2" fill="#000"/>
<rect x="959.39" y="207.87" width="7.2" height="7.2" fill="#000"/>
<rect x="969.31" y="207.87" width="7.2" height="7.2" fill="#000"/>
<rect x="979.24" y="207.87" width="7.2" height="7.2" fill="#000"/>
<rect x="989.17" y="207.87" width="7.2" height="7.2" fill="#000"/>
<rect x="999.1" y="207.87" width="7.2" height="7.2" fill="#000"/>
<rect x="1009.03" y="240.81" width="7.2" height="7.2" fill="#000"/>
<rect x="1018.96" y="240.81" width="7.2" height="7.2" fill="#000"/>
<rect x="1028.89" y="240.81" width="7.2" height="7.2" fill="#000"/>
<rect x="1038.81" y="240.81" width="7.2" height="7.2" fill="#000"/>
<rect x="1048.74" y="240.81" width="7.2" height="7.2" fill="#000"/>
<rect x="1058.67" y="240.81" width="7.2" height="7.2" fill="#000"/>
<rect x="1068.6" y="240.81" width="7.2" height="7.2" fill="#000"/>
<rect x="1078.53" y="240.81" width="7.2" height="7.2" fill="#000"/>
<rect x="1088.46" y="240.81" width="7.2" height="7.2" fill="#000"/>
<rect x="1098.39" y="240.81" width="7.2" height="7.2" fill="#000"/>
<rect x="1108.31" y="240.81" width="7.2" height="7.2" fill="#000"/>
<rect x="1118.24" y="240.81" width="7.2" height="7.2" fill="#000"/>
<rect x="1128.17" y="240.81" width="7.2" height="7.2" fill="#000"/>
<rect x="1138.1" y="240.81" width="7.2" height="7.2" fill="#000"/>
<rect x="1148.03" y="240.81" width="7.2" height="7.2" fill="#000"/>
<rect x="1157.96" y="240.81" width="7.2" height="7.2" fill="#000"/>
<rect x="1167.89" y="240.81" width="7.2" height="7.2" fill="#000"/>
<rect x="1177.81" y="240.81" width="7.2" height="7.2" fill="#000"/>
<rect x="1187.74" y="240.81" width="7.2" height="7.2" fill="#000"/>
<rect x="1197.67" y="240.81" width="7.2" height="7.2" fill="#000"/>
<rect x="1207.6" y="240.81" width="7.2" height="7.2" fill="#000"/>
<path d="M1012.63 244.41 L1022.56 244.41 L1032.49 244.41 L1042.41 244.41 L1052.34 244.41 L1062.27 244.41 L1072.2 244.41 L1082.13 79.7 L1092.06 79.7 L1101.99 79.7 L1111.91 79.7 L1121.84 79.7 L1131.77 79.7 L1141.7 79.7 L1151.63 79.7 L1161.56 79.7 L1171.49 79.7 L1181.41 79.7 L1191.34 79.7 L1201.27 79.7 L1211.2 79.7" fill="none" stroke="#0a22c8" stroke-width="2.1" stroke-linejoin="round"/>
<circle cx="1012.63" cy="244.41" r="3.7" fill="#0a22c8"/>
<circle cx="1022.56" cy="244.41" r="3.7" fill="#0a22c8"/>
<circle cx="1032.49" cy="244.41" r="3.7" fill="#0a22c8"/>
<circle cx="1042.41" cy="244.41" r="3.7" fill="#0a22c8"/>
<circle cx="1052.34" cy="244.41" r="3.7" fill="#0a22c8"/>
<circle cx="1062.27" cy="244.41" r="3.7" fill="#0a22c8"/>
<circle cx="1072.2" cy="244.41" r="3.7" fill="#0a22c8"/>
<circle cx="1082.13" cy="79.7" r="3.7" fill="#0a22c8"/>
<circle cx="1092.06" cy="79.7" r="3.7" fill="#0a22c8"/>
<circle cx="1101.99" cy="79.7" r="3.7" fill="#0a22c8"/>
<circle cx="1111.91" cy="79.7" r="3.7" fill="#0a22c8"/>
<circle cx="1121.84" cy="79.7" r="3.7" fill="#0a22c8"/>
<circle cx="1131.77" cy="79.7" r="3.7" fill="#0a22c8"/>
<circle cx="1141.7" cy="79.7" r="3.7" fill="#0a22c8"/>
<circle cx="1151.63" cy="79.7" r="3.7" fill="#0a22c8"/>
<circle cx="1161.56" cy="79.7" r="3.7" fill="#0a22c8"/>
<circle cx="1171.49" cy="79.7" r="3.7" fill="#0a22c8"/>
<circle cx="1181.41" cy="79.7" r="3.7" fill="#0a22c8"/>
<circle cx="1191.34" cy="79.7" r="3.7" fill="#0a22c8"/>
<circle cx="1201.27" cy="79.7" r="3.7" fill="#0a22c8"/>
<circle cx="1211.2" cy="79.7" r="3.7" fill="#0a22c8"/>
<path d="M943.13 145.59 L953.06 145.59 L962.99 145.59 L972.91 277.36 L982.84 277.36 L992.77 277.36 L1002.7 277.36 L1012.63 277.36 L1022.56 277.36 L1032.49 277.36 L1042.41 277.36 L1052.34 277.36 L1062.27 277.36 L1072.2 277.36 L1082.13 277.36 L1092.06 277.36 L1101.99 277.36 L1111.91 277.36 L1121.84 277.36 L1131.77 277.36 L1141.7 277.36 L1151.63 277.36 L1161.56 277.36 L1171.49 277.36 L1181.41 145.59 L1191.34 145.59 L1201.27 145.59 L1211.2 145.59" fill="none" stroke="#fb5a50" stroke-width="2.1" stroke-linejoin="round"/>
<path d="M943.13 140.99L947.73 150.19L938.53 150.19Z" fill="#fb5a50"/>
<path d="M953.06 140.99L957.66 150.19L948.46 150.19Z" fill="#fb5a50"/>
<path d="M962.99 140.99L967.59 150.19L958.39 150.19Z" fill="#fb5a50"/>
<path d="M972.91 272.76L977.51 281.96L968.31 281.96Z" fill="#fb5a50"/>
<path d="M982.84 272.76L987.44 281.96L978.24 281.96Z" fill="#fb5a50"/>
<path d="M992.77 272.76L997.37 281.96L988.17 281.96Z" fill="#fb5a50"/>
<path d="M1002.7 272.76L1007.3 281.96L998.1 281.96Z" fill="#fb5a50"/>
<path d="M1012.63 272.76L1017.23 281.96L1008.03 281.96Z" fill="#fb5a50"/>
<path d="M1022.56 272.76L1027.16 281.96L1017.96 281.96Z" fill="#fb5a50"/>
<path d="M1032.49 272.76L1037.09 281.96L1027.89 281.96Z" fill="#fb5a50"/>
<path d="M1042.41 272.76L1047.01 281.96L1037.81 281.96Z" fill="#fb5a50"/>
<path d="M1052.34 272.76L1056.94 281.96L1047.74 281.96Z" fill="#fb5a50"/>
<path d="M1062.27 272.76L1066.87 281.96L1057.67 281.96Z" fill="#fb5a50"/>
<path d="M1072.2 272.76L1076.8 281.96L1067.6 281.96Z" fill="#fb5a50"/>
<path d="M1082.13 272.76L1086.73 281.96L1077.53 281.96Z" fill="#fb5a50"/>
<path d="M1092.06 272.76L1096.66 281.96L1087.46 281.96Z" fill="#fb5a50"/>
<path d="M1101.99 272.76L1106.59 281.96L1097.39 281.96Z" fill="#fb5a50"/>
<path d="M1111.91 272.76L1116.51 281.96L1107.31 281.96Z" fill="#fb5a50"/>
<path d="M1121.84 272.76L1126.44 281.96L1117.24 281.96Z" fill="#fb5a50"/>
<path d="M1131.77 272.76L1136.37 281.96L1127.17 281.96Z" fill="#fb5a50"/>
<path d="M1141.7 272.76L1146.3 281.96L1137.1 281.96Z" fill="#fb5a50"/>
<path d="M1151.63 272.76L1156.23 281.96L1147.03 281.96Z" fill="#fb5a50"/>
<path d="M1161.56 272.76L1166.16 281.96L1156.96 281.96Z" fill="#fb5a50"/>
<path d="M1171.49 272.76L1176.09 281.96L1166.89 281.96Z" fill="#fb5a50"/>
<path d="M1181.41 140.99L1186.01 150.19L1176.81 150.19Z" fill="#fb5a50"/>
<path d="M1191.34 140.99L1195.94 150.19L1186.74 150.19Z" fill="#fb5a50"/>
<path d="M1201.27 140.99L1205.87 150.19L1196.67 150.19Z" fill="#fb5a50"/>
<path d="M1211.2 140.99L1215.8 150.19L1206.6 150.19Z" fill="#fb5a50"/>
<g stroke="#000" stroke-width="2.3" fill="none" stroke-linecap="butt">
<path d="M933.2 78.7 V311.4"/>
<path d="M923.2 310.3 H1281.8"/>
<path d="M923.2 310.3 H933.2"/>
<path d="M923.2 277.36 H933.2"/>
<path d="M923.2 244.41 H933.2"/>
<path d="M923.2 211.47 H933.2"/>
<path d="M923.2 178.53 H933.2"/>
<path d="M923.2 145.59 H933.2"/>
<path d="M923.2 112.64 H933.2"/>
<path d="M923.2 79.7 H933.2"/>
<path d="M933.2 310.3 V319.8"/>
<path d="M958.02 310.3 V315.8"/>
<path d="M982.84 310.3 V319.8"/>
<path d="M1007.66 310.3 V315.8"/>
<path d="M1032.49 310.3 V319.8"/>
<path d="M1057.31 310.3 V315.8"/>
<path d="M1082.13 310.3 V319.8"/>
<path d="M1106.95 310.3 V315.8"/>
<path d="M1131.77 310.3 V319.8"/>
<path d="M1156.59 310.3 V315.8"/>
<path d="M1181.41 310.3 V319.8"/>
<path d="M1206.24 310.3 V315.8"/>
<path d="M1231.06 310.3 V319.8"/>
<path d="M1255.88 310.3 V315.8"/>
<path d="M1280.7 310.3 V319.8"/>
</g>
<text x="920" y="316.6" font-size="17.5" font-weight="bold" text-anchor="end">0</text>
<text x="920" y="283.66" font-size="17.5" font-weight="bold" text-anchor="end">1</text>
<text x="920" y="250.71" font-size="17.5" font-weight="bold" text-anchor="end">2</text>
<text x="920" y="217.77" font-size="17.5" font-weight="bold" text-anchor="end">3</text>
<text x="920" y="184.83" font-size="17.5" font-weight="bold" text-anchor="end">4</text>
<text x="920" y="151.89" font-size="17.5" font-weight="bold" text-anchor="end">5</text>
<text x="920" y="118.94" font-size="17.5" font-weight="bold" text-anchor="end">6</text>
<text x="920" y="86" font-size="17.5" font-weight="bold" text-anchor="end">7</text>
<text x="933.2" y="340.5" font-size="17.5" font-weight="bold" text-anchor="middle">0</text>
<text x="982.84" y="340.5" font-size="17.5" font-weight="bold" text-anchor="middle">5</text>
<text x="1032.49" y="340.5" font-size="17.5" font-weight="bold" text-anchor="middle">10</text>
<text x="1082.13" y="340.5" font-size="17.5" font-weight="bold" text-anchor="middle">15</text>
<text x="1131.77" y="340.5" font-size="17.5" font-weight="bold" text-anchor="middle">20</text>
<text x="1181.41" y="340.5" font-size="17.5" font-weight="bold" text-anchor="middle">25</text>
<text x="1231.06" y="340.5" font-size="17.5" font-weight="bold" text-anchor="middle">30</text>
<text x="1280.7" y="340.5" font-size="17.5" font-weight="bold" text-anchor="middle">35</text>
<text x="1106.95" y="366.8" font-size="18.3" font-weight="bold" text-anchor="middle">Day</text>
<text x="899.6" y="195" font-size="19.3" font-weight="bold" text-anchor="middle" transform="rotate(-90 899.6 195)">CGI-S</text>
<line x1="238" y1="62.5" x2="246" y2="62.5" stroke="#000" stroke-width="1.3"/>
<path d="M1363.7 111.39 L1397.96 149.51 L1432.22 218.12 L1466.48 240.99 L1500.74 271.48 L1603.52 248.61 L1672.04 141.89" fill="none" stroke="#000" stroke-width="1.6"/>
<circle cx="1363.7" cy="111.39" r="4.7" fill="#000"/>
<circle cx="1397.96" cy="149.51" r="4.7" fill="#000"/>
<circle cx="1432.22" cy="218.12" r="4.7" fill="#000"/>
<circle cx="1466.48" cy="240.99" r="4.7" fill="#000"/>
<circle cx="1500.74" cy="271.48" r="4.7" fill="#000"/>
<circle cx="1603.52" cy="248.61" r="4.7" fill="#000"/>
<circle cx="1672.04" cy="141.89" r="4.7" fill="#000"/>
<g stroke="#000" stroke-width="2.3" fill="none">
<path d="M1363.7 79.9 V310.7"/>
<path d="M1353.7 309.6 H1707.4"/>
<path d="M1353.7 309.6 H1363.7"/>
<path d="M1353.7 271.48 H1363.7"/>
<path d="M1353.7 233.37 H1363.7"/>
<path d="M1353.7 195.25 H1363.7"/>
<path d="M1353.7 157.13 H1363.7"/>
<path d="M1353.7 119.02 H1363.7"/>
<path d="M1353.7 80.9 H1363.7"/>
<path d="M1363.7 309.6 V319.1"/>
<path d="M1432.22 309.6 V319.1"/>
<path d="M1500.74 309.6 V319.1"/>
<path d="M1569.26 309.6 V319.1"/>
<path d="M1637.78 309.6 V319.1"/>
<path d="M1706.3 309.6 V319.1"/>
</g>
<text x="1350.7" y="315.8" font-size="17.5" font-weight="bold" text-anchor="end">20</text>
<text x="1350.7" y="277.68" font-size="17.5" font-weight="bold" text-anchor="end">25</text>
<text x="1350.7" y="239.57" font-size="17.5" font-weight="bold" text-anchor="end">30</text>
<text x="1350.7" y="201.45" font-size="17.5" font-weight="bold" text-anchor="end">35</text>
<text x="1350.7" y="163.33" font-size="17.5" font-weight="bold" text-anchor="end">40</text>
<text x="1350.7" y="125.22" font-size="17.5" font-weight="bold" text-anchor="end">45</text>
<text x="1350.7" y="87.1" font-size="17.5" font-weight="bold" text-anchor="end">50</text>
<text x="1363.7" y="339.6" font-size="17.5" font-weight="bold" text-anchor="middle">0</text>
<text x="1432.22" y="339.6" font-size="17.5" font-weight="bold" text-anchor="middle">2</text>
<text x="1500.74" y="339.6" font-size="17.5" font-weight="bold" text-anchor="middle">4</text>
<text x="1569.26" y="339.6" font-size="17.5" font-weight="bold" text-anchor="middle">6</text>
<text x="1637.78" y="339.6" font-size="17.5" font-weight="bold" text-anchor="middle">8</text>
<text x="1706.3" y="339.6" font-size="17.5" font-weight="bold" text-anchor="middle">10</text>
<text x="1368.84" y="304.9" font-size="17.5" text-anchor="middle">x</text>
<text x="1398.65" y="305.9" font-size="17.5" text-anchor="middle">x</text>
<text x="1432.22" y="305.9" font-size="17.5" text-anchor="middle">x</text>
<text x="1464.77" y="305.9" font-size="17.5" text-anchor="middle">x</text>
<text x="1501.08" y="305.9" font-size="17.5" text-anchor="middle">x</text>
<text x="1539.45" y="305.9" font-size="17.5" text-anchor="middle">x</text>
<text x="1672.73" y="305.9" font-size="17.5" text-anchor="middle">x</text>
<text x="1535" y="365.5" font-size="18.3" font-weight="bold" text-anchor="middle">Months on IVIg</text>
<text x="1321.9" y="195.25" font-size="18.3" font-weight="bold" text-anchor="middle" transform="rotate(-90 1321.9 195.25)">CY-BOCS</text>
<text x="1610.3" y="96.9" font-size="19.3" font-weight="bold">x: IVIg infusion</text>
<text x="49.6" y="29.8" font-size="40.5" font-weight="bold">A</text>
<text x="0" y="0" font-size="33.5" font-weight="bold" transform="translate(1288.6 29.3) scale(1.08 1)">B</text>
<text x="0" y="0" font-size="45" font-weight="bold" transform="translate(42.8 496.8) scale(0.79 1)">C</text>
<text x="0" y="0" font-size="43.5" font-weight="bold" transform="translate(1293.4 491.8) scale(0.94 1)">D</text>
<defs><linearGradient id="cb" x1="0" y1="0" x2="0" y2="1"><stop offset="0" stop-color="rgb(178,24,43)"/><stop offset="0.01" stop-color="rgb(183,33,47)"/><stop offset="0.03" stop-color="rgb(188,42,52)"/><stop offset="0.04" stop-color="rgb(192,51,56)"/><stop offset="0.05" stop-color="rgb(197,60,60)"/><stop offset="0.06" stop-color="rgb(202,69,65)"/><stop offset="0.07" stop-color="rgb(207,78,69)"/><stop offset="0.09" stop-color="rgb(212,87,73)"/><stop offset="0.1" stop-color="rgb(216,96,78)"/><stop offset="0.11" stop-color="rgb(221,104,82)"/><stop offset="0.12" stop-color="rgb(226,113,86)"/><stop offset="0.14" stop-color="rgb(231,122,90)"/><stop offset="0.15" stop-color="rgb(235,131,95)"/><stop offset="0.16" stop-color="rgb(239,139,100)"/><stop offset="0.17" stop-color="rgb(240,146,108)"/><stop offset="0.19" stop-color="rgb(241,152,115)"/><stop offset="0.2" stop-color="rgb(243,158,123)"/><stop offset="0.21" stop-color="rgb(244,165,131)"/><stop offset="0.23" stop-color="rgb(245,171,139)"/><stop offset="0.24" stop-color="rgb(246,177,147)"/><stop offset="0.25" stop-color="rgb(247,184,155)"/><stop offset="0.26" stop-color="rgb(248,190,163)"/><stop offset="0.28" stop-color="rgb(249,196,171)"/><stop offset="0.29" stop-color="rgb(250,203,179)"/><stop offset="0.3" stop-color="rgb(251,209,186)"/><stop offset="0.31" stop-color="rgb(252,215,194)"/><stop offset="0.33" stop-color="rgb(253,220,200)"/><stop offset="0.34" stop-color="rgb(252,222,204)"/><stop offset="0.35" stop-color="rgb(252,224,208)"/><stop offset="0.36" stop-color="rgb(251,226,212)"/><stop offset="0.38" stop-color="rgb(251,229,215)"/><stop offset="0.39" stop-color="rgb(250,231,219)"/><stop offset="0.4" stop-color="rgb(250,233,223)"/><stop offset="0.41" stop-color="rgb(250,235,227)"/><stop offset="0.42" stop-color="rgb(249,237,230)"/><stop offset="0.44" stop-color="rgb(249,240,234)"/><stop offset="0.45" stop-color="rgb(248,242,238)"/><stop offset="0.46" stop-color="rgb(248,244,242)"/><stop offset="0.47" stop-color="rgb(247,246,245)"/><stop offset="0.49" stop-color="rgb(245,246,247)"/><stop offset="0.5" stop-color="rgb(243,245,246)"/><stop offset="0.51" stop-color="rgb(240,244,246)"/><stop offset="0.53" stop-color="rgb(237,242,245)"/><stop offset="0.54" stop-color="rgb(234,241,245)"/><stop offset="0.55" stop-color="rgb(232,240,244)"/><stop offset="0.56" stop-color="rgb(229,238,244)"/><stop offset="0.57" stop-color="rgb(226,237,243)"/><stop offset="0.59" stop-color="rgb(223,236,243)"/><stop offset="0.6" stop-color="rgb(221,235,242)"/><stop offset="0.61" stop-color="rgb(218,233,242)"/><stop offset="0.62" stop-color="rgb(215,232,241)"/><stop offset="0.64" stop-color="rgb(213,231,241)"/><stop offset="0.65" stop-color="rgb(210,229,240)"/><stop offset="0.66" stop-color="rgb(204,226,238)"/><stop offset="0.68" stop-color="rgb(196,222,236)"/><stop offset="0.69" stop-color="rgb(188,217,234)"/><stop offset="0.7" stop-color="rgb(181,213,231)"/><stop offset="0.71" stop-color="rgb(173,209,229)"/><stop offset="0.72" stop-color="rgb(165,204,226)"/><stop offset="0.74" stop-color="rgb(158,200,224)"/><stop offset="0.75" stop-color="rgb(150,196,222)"/><stop offset="0.76" stop-color="rgb(142,191,219)"/><stop offset="0.78" stop-color="rgb(135,187,217)"/><stop offset="0.79" stop-color="rgb(127,183,214)"/><stop offset="0.8" stop-color="rgb(119,178,212)"/><stop offset="0.81" stop-color="rgb(112,174,210)"/><stop offset="0.82" stop-color="rgb(104,170,207)"/><stop offset="0.84" stop-color="rgb(99,165,205)"/><stop offset="0.85" stop-color="rgb(94,160,202)"/><stop offset="0.86" stop-color="rgb(89,155,200)"/><stop offset="0.88" stop-color="rgb(84,150,197)"/><stop offset="0.89" stop-color="rgb(78,146,195)"/><stop offset="0.9" stop-color="rgb(73,141,192)"/><stop offset="0.91" stop-color="rgb(68,136,190)"/><stop offset="0.93" stop-color="rgb(63,131,187)"/><stop offset="0.94" stop-color="rgb(58,126,185)"/><stop offset="0.95" stop-color="rgb(53,121,182)"/><stop offset="0.96" stop-color="rgb(48,116,180)"/><stop offset="0.97" stop-color="rgb(43,112,177)"/><stop offset="0.99" stop-color="rgb(38,107,175)"/><stop offset="1" stop-color="rgb(33,102,172)"/></linearGradient></defs>
<rect x="216.7" y="483.6" width="22.5" height="340.2" fill="url(#cb)"/>
<text x="247.4" y="540.3" font-size="22.7">2</text>
<text x="247.4" y="597.7" font-size="22.7">1</text>
<text x="247.4" y="655.1" font-size="22.7">0</text>
<text x="247.4" y="712.5" font-size="22.7">−1</text>
<text x="247.4" y="769.9" font-size="22.7">−2</text>
<text x="247.4" y="827.3" font-size="22.7">−3</text>
<text x="127" y="648.7" font-size="29">NES</text>
<rect x="744.2" y="471.95" width="122.9" height="32.8" fill="#b0182b"/>
<rect x="867.1" y="471.95" width="123.3" height="32.8" fill="#2166ac"/>
<rect x="744.2" y="504.35" width="122.9" height="32.8" fill="#b41f2e"/>
<rect x="867.1" y="504.35" width="123.3" height="32.8" fill="#2569ae"/>
<rect x="744.2" y="536.76" width="122.9" height="32.8" fill="#b41f2e"/>
<rect x="867.1" y="536.76" width="123.3" height="32.8" fill="#2569ae"/>
<rect x="744.2" y="569.16" width="122.9" height="32.8" fill="#b8232f"/>
<rect x="867.1" y="569.16" width="123.3" height="32.8" fill="#2e71b3"/>
<rect x="744.2" y="601.57" width="122.9" height="32.8" fill="#c03238"/>
<rect x="867.1" y="601.57" width="123.3" height="32.8" fill="#3174b4"/>
<rect x="744.2" y="633.97" width="122.9" height="32.8" fill="#c03238"/>
<rect x="867.1" y="633.97" width="123.3" height="32.8" fill="#377ab6"/>
<rect x="744.2" y="666.37" width="122.9" height="32.8" fill="#c3373a"/>
<rect x="867.1" y="666.37" width="123.3" height="32.8" fill="#2e72b3"/>
<rect x="744.2" y="698.78" width="122.9" height="32.8" fill="#ce4f44"/>
<rect x="867.1" y="698.78" width="123.3" height="32.8" fill="#3c7fb9"/>
<rect x="744.2" y="731.18" width="122.9" height="32.8" fill="#ce4f44"/>
<rect x="867.1" y="731.18" width="123.3" height="32.8" fill="#387bb7"/>
<rect x="744.2" y="763.59" width="122.9" height="32.8" fill="#d55d4c"/>
<rect x="867.1" y="763.59" width="123.3" height="32.8" fill="#5799c7"/>
<rect x="744.2" y="795.99" width="122.9" height="32.8" fill="#d65e4d"/>
<rect x="867.1" y="795.99" width="123.3" height="32.8" fill="#5799c7"/>
<rect x="744.2" y="828.39" width="122.9" height="32.8" fill="#e06a53"/>
<rect x="867.1" y="828.39" width="123.3" height="32.8" fill="#4d8fc3"/>
<rect x="744.2" y="860.8" width="122.9" height="32.8" fill="#e06a53"/>
<rect x="867.1" y="860.8" width="123.3" height="32.8" fill="#79b0d4"/>
<rect x="744.2" y="893.2" width="122.9" height="32.8" fill="#e47157"/>
<rect x="867.1" y="893.2" width="123.3" height="32.8" fill="#62a1cb"/>
<rect x="744.2" y="925.61" width="122.9" height="32.8" fill="#e6795b"/>
<rect x="867.1" y="925.61" width="123.3" height="32.8" fill="#65a5cf"/>
<rect x="744.2" y="958.01" width="122.9" height="32.8" fill="#e97f5e"/>
<rect x="867.1" y="958.01" width="123.3" height="32.8" fill="#5c9bc8"/>
<rect x="744.2" y="990.41" width="122.9" height="32.8" fill="#e97f5e"/>
<rect x="867.1" y="990.41" width="123.3" height="32.8" fill="#6aa8cf"/>
<rect x="744.2" y="1022.82" width="122.9" height="32.8" fill="#e97f5e"/>
<rect x="867.1" y="1022.82" width="123.3" height="32.8" fill="#d5e6f1"/>
<rect x="744.2" y="1064.92" width="122.9" height="32.8" fill="#e97f5e"/>
<rect x="867.1" y="1064.92" width="123.3" height="32.8" fill="#79b0d4"/>
<rect x="744.2" y="1097.33" width="122.9" height="32.8" fill="#eb8562"/>
<rect x="867.1" y="1097.33" width="123.3" height="32.8" fill="#6aa8cf"/>
<rect x="744.2" y="1139.43" width="122.9" height="32.8" fill="#e97f5e"/>
<rect x="867.1" y="1139.43" width="123.3" height="32.8" fill="#abcde3"/>
<rect x="744.2" y="1171.83" width="122.9" height="32.8" fill="#e97f5e"/>
<rect x="867.1" y="1171.83" width="123.3" height="32.8" fill="#b0d1e5"/>
<rect x="744.2" y="1204.24" width="122.9" height="32.8" fill="#ec8562"/>
<rect x="867.1" y="1204.24" width="123.3" height="32.8" fill="#c4dbeb"/>
<rect x="744.2" y="1236.64" width="122.9" height="32.8" fill="#71aed3"/>
<rect x="867.1" y="1236.64" width="123.3" height="32.8" fill="#d9e7f0"/>
<rect x="744.2" y="1269.05" width="122.9" height="32.8" fill="#7ab0d4"/>
<rect x="867.1" y="1269.05" width="123.3" height="32.8" fill="#d7e7f0"/>
<rect x="744.2" y="1311.15" width="122.9" height="32.8" fill="#e3785a"/>
<rect x="867.1" y="1311.15" width="123.3" height="32.8" fill="#a6cae1"/>
<rect x="744.2" y="1343.55" width="122.9" height="32.8" fill="#7ab0d4"/>
<rect x="867.1" y="1343.55" width="123.3" height="32.8" fill="#dceaf2"/>
<rect x="744.2" y="1375.96" width="122.9" height="32.8" fill="#7ab0d4"/>
<rect x="867.1" y="1375.96" width="123.3" height="32.8" fill="#ee8a66"/>
<rect x="744.2" y="1418.06" width="122.9" height="32.8" fill="#6aa9cf"/>
<rect x="867.1" y="1418.06" width="123.3" height="32.8" fill="#ec8562"/>
<rect x="744.2" y="1450.47" width="122.9" height="32.8" fill="#69a8cf"/>
<rect x="867.1" y="1450.47" width="123.3" height="32.8" fill="#dd6852"/>
<rect x="744.2" y="1482.87" width="122.9" height="32.8" fill="#79b0d4"/>
<rect x="867.1" y="1482.87" width="123.3" height="32.8" fill="#ed8a66"/>
<rect x="744.2" y="1515.27" width="122.9" height="32.8" fill="#7eb3d5"/>
<rect x="867.1" y="1515.27" width="123.3" height="32.8" fill="#f1a07f"/>
<rect x="744.2" y="1547.68" width="122.9" height="32.8" fill="#71aed2"/>
<rect x="867.1" y="1547.68" width="123.3" height="32.8" fill="#f19372"/>
<rect x="744.2" y="1589.78" width="122.9" height="32.8" fill="#70aed2"/>
<rect x="867.1" y="1589.78" width="123.3" height="32.8" fill="#f3a887"/>
<rect x="744.2" y="1622.19" width="122.9" height="32.8" fill="#70aed2"/>
<rect x="867.1" y="1622.19" width="123.3" height="32.8" fill="#f1a07f"/>
<rect x="744.2" y="1664.29" width="122.9" height="32.8" fill="#60a1cb"/>
<rect x="867.1" y="1664.29" width="123.3" height="32.8" fill="#e2ecf3"/>
<rect x="744.2" y="1696.69" width="122.9" height="32.8" fill="#68a8cf"/>
<rect x="867.1" y="1696.69" width="123.3" height="32.8" fill="#f8cbb4"/>
<rect x="744.2" y="1729.1" width="122.9" height="32.8" fill="#79b0d4"/>
<rect x="867.1" y="1729.1" width="123.3" height="32.8" fill="#f7c5ad"/>
<rect x="744.2" y="1761.5" width="122.9" height="32.8" fill="#70aed2"/>
<rect x="867.1" y="1761.5" width="123.3" height="32.8" fill="#f6c2a9"/>
<rect x="744.2" y="1793.91" width="122.9" height="32.8" fill="#7eb3d5"/>
<rect x="867.1" y="1793.91" width="123.3" height="32.8" fill="#f5bca4"/>
<rect x="744.2" y="1826.31" width="122.9" height="32.8" fill="#60a1cb"/>
<rect x="867.1" y="1826.31" width="123.3" height="32.8" fill="#f4b397"/>
<rect x="744.2" y="1858.71" width="122.9" height="32.8" fill="#79b0d4"/>
<rect x="867.1" y="1858.71" width="123.3" height="32.8" fill="#e5785b"/>
<rect x="744.2" y="1900.82" width="122.9" height="32.8" fill="#69a9cf"/>
<rect x="867.1" y="1900.82" width="123.3" height="32.8" fill="#f9d0ba"/>
<rect x="744.2" y="1933.22" width="122.9" height="32.8" fill="#7ab0d4"/>
<rect x="867.1" y="1933.22" width="123.3" height="32.8" fill="#f19473"/>
<rect x="744.2" y="1965.63" width="122.9" height="32.8" fill="#70aed2"/>
<rect x="867.1" y="1965.63" width="123.3" height="32.8" fill="#dd6a54"/>
<rect x="744.2" y="2007.73" width="122.9" height="32.8" fill="#ec8562"/>
<rect x="867.1" y="2007.73" width="123.3" height="32.8" fill="#62a1cb"/>
<rect x="744.2" y="2040.13" width="122.9" height="32.8" fill="#70aed2"/>
<rect x="867.1" y="2040.13" width="123.3" height="32.8" fill="#fadfd0"/>
<rect x="744.2" y="2072.54" width="122.9" height="32.8" fill="#7eb3d5"/>
<rect x="867.1" y="2072.54" width="123.3" height="32.8" fill="#fbd8c7"/>
<rect x="744.2" y="2104.94" width="122.9" height="32.8" fill="#7eb3d5"/>
<rect x="867.1" y="2104.94" width="123.3" height="32.8" fill="#ef9b79"/>
<rect x="744.2" y="2137.35" width="122.9" height="32.8" fill="#79b0d4"/>
<rect x="867.1" y="2137.35" width="123.3" height="32.8" fill="#dd6a54"/>
<rect x="1000.3" y="469.75" width="23.2" height="583.47" fill="#7fcc00"/>
<rect x="1000.3" y="1062.72" width="23.2" height="65.01" fill="#00d978"/>
<rect x="1000.3" y="1137.23" width="23.2" height="162.22" fill="#ff88ff"/>
<rect x="1000.3" y="1308.95" width="23.2" height="97.41" fill="#cca0ff"/>
<rect x="1000.3" y="1415.86" width="23.2" height="162.22" fill="#ff9088"/>
<rect x="1000.3" y="1587.58" width="23.2" height="65.01" fill="#00dcc4"/>
<rect x="1000.3" y="1662.09" width="23.2" height="227.03" fill="#ccbb00"/>
<rect x="1000.3" y="1898.62" width="23.2" height="97.41" fill="#f7a512"/>
<rect x="1000.3" y="2005.53" width="23.2" height="162.22" fill="#00d8f8"/>
<g font-size="24.85" text-anchor="end">
<text x="729" y="497.75">Cytosolic ribosome</text>
<text x="729" y="530.16">Structural constituent of ribosome</text>
<text x="729" y="562.56">Ribosomal subunit</text>
<text x="729" y="594.96">Cytosolic large ribosomal subunit</text>
<text x="729" y="627.37">Ribosome</text>
<text x="729" y="659.77">Large ribosomal subunit</text>
<text x="729" y="692.18">Cytoplasmic translation</text>
<text x="729" y="724.58">Cytosolic small ribosomal subunit</text>
<text x="729" y="756.98">Small ribosomal subunit</text>
<text x="729" y="789.39">Polysomal ribosome</text>
<text x="729" y="821.79">Ribosome assembly</text>
<text x="729" y="854.2">Ribosomal large subunit biogenesis</text>
<text x="729" y="886.6">Ribosomal large subunit assembly</text>
<text x="729" y="919">rRNA binding</text>
<text x="729" y="951.41">Ribosomal small subunit assembly</text>
<text x="729" y="983.81">Ribosome biogenesis</text>
<text x="729" y="1016.22">Ribosomal small subunit biogenesis</text>
<text x="729" y="1048.62">Regulation of transcription of rRNA by RNA polymerase I*</text>
<text x="729" y="1090.72">Negative regulation of ubiquitin protein ligase activity</text>
<text x="729" y="1123.13">Ubiquitin protein transferase regulator activity</text>
<text x="729" y="1165.23">Monocyte chemotaxis</text>
<text x="729" y="1197.64">T cell receptor complex</text>
<text x="729" y="1230.04">Regulation of inflammatory response to antigenic stimulus</text>
<text x="729" y="1262.44">Positive regulation of natural killer cell mediated immunity</text>
<text x="729" y="1294.85">Positive regulation of natural killer cell mediated cytotoxicity</text>
<text x="729" y="1336.95">Deoxyribose phosphate catabolic process</text>
<text x="729" y="1369.36">Regulation of sister chromatid cohesion</text>
<text x="729" y="1401.76">Stem cell proliferation</text>
<text x="729" y="1443.86">Regulation of chromatin assembly or disassembly</text>
<text x="729" y="1476.27">Regulation of chromatin organization</text>
<text x="729" y="1508.67">miRNA binding</text>
<text x="729" y="1541.08">RNA 7 methylguanosine cap binding</text>
<text x="729" y="1573.48">RNA destabilization</text>
<text x="729" y="1615.58">Positive regulation of mRNA metabolic process</text>
<text x="729" y="1647.99">Nuclear transcribed mRNA catabolic process**</text>
<text x="729" y="1690.09">Golgi associated vesicle membrane</text>
<text x="729" y="1722.5">Golgi associated vesicle</text>
<text x="729" y="1754.9">Positive regulation of receptor internalization</text>
<text x="729" y="1787.3">Endoplasmic reticulum exit site</text>
<text x="729" y="1819.71">Membrane coat</text>
<text x="729" y="1852.11">Vesicle coat</text>
<text x="729" y="1884.52">Clathrin coated pit</text>
<text x="729" y="1926.62">Inositol phosphate phosphatase activity</text>
<text x="729" y="1959.02">Phosphatidylinositol 3 phosphate biosynthetic process</text>
<text x="729" y="1991.43">Phosphatidylinositol phosphate kinase activity</text>
<text x="729" y="2033.53">Oxidoreduction driven active transmembrane transporter activity</text>
<text x="729" y="2065.94">Dynein complex binding</text>
<text x="729" y="2098.34">Microtubule cytoskeleton organization involved in mitosis</text>
<text x="729" y="2130.74">Protein localization to microtubule organizing center</text>
<text x="729" y="2163.15">Megakaryocyte development</text>
</g>
<g font-size="27">
<text x="1046.4" y="779.4">Translation/Ribosome</text>
<text x="1054.2" y="1084">Post translational</text>
<text x="1054.2" y="1116">protein modification</text>
<text x="1052.6" y="1220">Immune function</text>
<text x="1047.3" y="1359.2">DNA pathways</text>
<text x="1054.5" y="1512.1">Epigenetics</text>
<text x="1054.5" y="1624.7">mRNA process</text>
<text x="1051.8" y="1775">Endocytic vesicle</text>
<text x="1051.8" y="1807.2">pathway</text>
<text x="1049.5" y="1958.6">Inositol phosphate</text>
<text x="1049.5" y="1990.3">phosphatase pathway</text>
<text x="1047.2" y="2087.9">Others</text>
</g>
<text x="0" y="0" font-size="25.2" textLength="205" lengthAdjust="spacingAndGlyphs" transform="translate(796.6 2177.9) rotate(90)">PreIVIG vs Control</text>
<text x="0" y="0" font-size="25" textLength="203" lengthAdjust="spacingAndGlyphs" transform="translate(920 2177.9) rotate(90)">PostIVIG vs PreIVIG</text>
<text x="0" y="0" font-size="24.3" textLength="91" lengthAdjust="spacingAndGlyphs" transform="translate(1003.4 2175.2) rotate(90)">Category</text>
<text x="1575" y="520.9" font-size="29.3" font-weight="bold" text-anchor="middle">RPS19</text>
<g stroke="#000" stroke-width="2.5" fill="none">
<path d="M1473.6 557.4 V862"/>
<path d="M1461.1 860.8 H1674.6"/>
<path d="M1461.1 860.8 H1473.6"/>
<path d="M1461.1 760.07 H1473.6"/>
<path d="M1461.1 659.33 H1473.6"/>
<path d="M1461.1 558.6 H1473.6"/>
<path d="M1513.3 860.8 V874.4"/>
<path d="M1573.9 860.8 V874.4"/>
<path d="M1634.4 860.8 V874.4"/>
<path d="M1493.4 745.5 H1533.9"/>
<path d="M1554 666.6 H1594.2"/>
<path d="M1614.3 725.2 H1653.9"/>
</g>
<text x="0" y="0" font-size="24.5" font-weight="bold" text-anchor="end" transform="translate(1457 870) scale(0.94 1)">10.8</text>
<text x="0" y="0" font-size="24.5" font-weight="bold" text-anchor="end" transform="translate(1457 769.27) scale(0.94 1)">11.0</text>
<text x="0" y="0" font-size="24.5" font-weight="bold" text-anchor="end" transform="translate(1457 668.53) scale(0.94 1)">11.2</text>
<text x="0" y="0" font-size="24.5" font-weight="bold" text-anchor="end" transform="translate(1457 567.8) scale(0.94 1)">11.4</text>
<circle cx="1513.8" cy="649.3" r="5.2" fill="#000"/>
<circle cx="1513.8" cy="667.4" r="5.2" fill="#000"/>
<circle cx="1513.8" cy="690.3" r="5.2" fill="#000"/>
<circle cx="1498.2" cy="730.7" r="5.2" fill="#000"/>
<circle cx="1521" cy="727.4" r="5.2" fill="#000"/>
<circle cx="1498.2" cy="767" r="5.2" fill="#000"/>
<circle cx="1513.8" cy="770.9" r="5.2" fill="#000"/>
<circle cx="1529.4" cy="761.2" r="5.2" fill="#000"/>
<circle cx="1498.2" cy="779" r="5.2" fill="#000"/>
<circle cx="1529.4" cy="772.9" r="5.2" fill="#000"/>
<circle cx="1565.2" cy="582.9" r="5.2" fill="#000"/>
<circle cx="1583" cy="580.3" r="5.2" fill="#000"/>
<circle cx="1565.2" cy="652" r="5.2" fill="#000"/>
<circle cx="1583" cy="654.8" r="5.2" fill="#000"/>
<circle cx="1573.5" cy="666.8" r="5.2" fill="#000"/>
<circle cx="1565.2" cy="697.3" r="5.2" fill="#000"/>
<circle cx="1583" cy="697.3" r="5.2" fill="#000"/>
<circle cx="1573.5" cy="711.2" r="5.2" fill="#000"/>
<circle cx="1573.5" cy="782.1" r="5.2" fill="#000"/>
<circle cx="1633.8" cy="677.2" r="5.2" fill="#000"/>
<circle cx="1618.7" cy="718.5" r="5.2" fill="#000"/>
<circle cx="1628.2" cy="725.2" r="5.2" fill="#000"/>
<circle cx="1640" cy="722.4" r="5.2" fill="#000"/>
<circle cx="1650" cy="725.2" r="5.2" fill="#000"/>
<circle cx="1628.2" cy="745.8" r="5.2" fill="#000"/>
<circle cx="1640" cy="742.7" r="5.2" fill="#000"/>
<circle cx="1640" cy="754.7" r="5.2" fill="#000"/>
<circle cx="1633.8" cy="812.5" r="5.2" fill="#000"/>
<text x="0" y="0" font-size="21.5" text-anchor="middle" textLength="247.8" lengthAdjust="spacingAndGlyphs" transform="translate(1399.7 710.9) rotate(-90)">RUV.norm log count per mil</text>
<text x="0" y="0" font-size="23" font-weight="bold" text-anchor="end" transform="translate(1519.3 894.4) rotate(-45)">controls</text>
<text x="0" y="0" font-size="23" font-weight="bold" text-anchor="end" transform="translate(1579.9 894.4) rotate(-45)">PANS-preIVIG</text>
<text x="0" y="0" font-size="23" font-weight="bold" text-anchor="end" transform="translate(1640.4 894.4) rotate(-45)">PANS-postIVIG</text>
<text x="1576.8" y="1105.4" font-size="29.3" font-weight="bold" text-anchor="middle">RPL41</text>
<g stroke="#000" stroke-width="2.5" fill="none">
<path d="M1472.3 1136.9 V1453"/>
<path d="M1459.8 1451.8 H1681.3"/>
<path d="M1459.8 1451.8 H1472.3"/>
<path d="M1459.8 1373.38 H1472.3"/>
<path d="M1459.8 1294.95 H1472.3"/>
<path d="M1459.8 1216.53 H1472.3"/>
<path d="M1459.8 1138.1 H1472.3"/>
<path d="M1515.3 1451.8 V1464.9"/>
<path d="M1577.4 1451.8 V1464.9"/>
<path d="M1640 1451.8 V1464.9"/>
<path d="M1495 1346 H1536.3"/>
<path d="M1557.1 1295.3 H1598.9"/>
<path d="M1619.2 1370.6 H1661.5"/>
</g>
<text x="0" y="0" font-size="24.5" font-weight="bold" text-anchor="end" transform="translate(1455.7 1461) scale(0.94 1)">9.0</text>
<text x="0" y="0" font-size="24.5" font-weight="bold" text-anchor="end" transform="translate(1455.7 1382.58) scale(0.94 1)">9.2</text>
<text x="0" y="0" font-size="24.5" font-weight="bold" text-anchor="end" transform="translate(1455.7 1304.15) scale(0.94 1)">9.4</text>
<text x="0" y="0" font-size="24.5" font-weight="bold" text-anchor="end" transform="translate(1455.7 1225.73) scale(0.94 1)">9.6</text>
<text x="0" y="0" font-size="24.5" font-weight="bold" text-anchor="end" transform="translate(1455.7 1147.3) scale(0.94 1)">9.8</text>
<circle cx="1515.3" cy="1267.4" r="5.2" fill="#000"/>
<circle cx="1499" cy="1289.3" r="5.2" fill="#000"/>
<circle cx="1515.3" cy="1285.8" r="5.2" fill="#000"/>
<circle cx="1515.3" cy="1297.7" r="5.2" fill="#000"/>
<circle cx="1515.3" cy="1334.7" r="5.2" fill="#000"/>
<circle cx="1499" cy="1360.5" r="5.2" fill="#000"/>
<circle cx="1515.3" cy="1357.4" r="5.2" fill="#000"/>
<circle cx="1531.5" cy="1361" r="5.2" fill="#000"/>
<circle cx="1515.3" cy="1377.2" r="5.2" fill="#000"/>
<circle cx="1515.3" cy="1411.2" r="5.2" fill="#000"/>
<circle cx="1577.9" cy="1204.5" r="5.2" fill="#000"/>
<circle cx="1577.9" cy="1218.1" r="5.2" fill="#000"/>
<circle cx="1577.9" cy="1238" r="5.2" fill="#000"/>
<circle cx="1577.9" cy="1250.4" r="5.2" fill="#000"/>
<circle cx="1568.3" cy="1295.3" r="5.2" fill="#000"/>
<circle cx="1588.1" cy="1298.4" r="5.2" fill="#000"/>
<circle cx="1568.3" cy="1312.7" r="5.2" fill="#000"/>
<circle cx="1588.1" cy="1316.1" r="5.2" fill="#000"/>
<circle cx="1577.9" cy="1360.5" r="5.2" fill="#000"/>
<circle cx="1640" cy="1333.5" r="5.2" fill="#000"/>
<circle cx="1640" cy="1347.4" r="5.2" fill="#000"/>
<circle cx="1630.7" cy="1357.4" r="5.2" fill="#000"/>
<circle cx="1649.8" cy="1357.4" r="5.2" fill="#000"/>
<circle cx="1630.7" cy="1370.6" r="5.2" fill="#000"/>
<circle cx="1649.8" cy="1374.9" r="5.2" fill="#000"/>
<circle cx="1630.7" cy="1383" r="5.2" fill="#000"/>
<circle cx="1649.8" cy="1393.3" r="5.2" fill="#000"/>
<circle cx="1630.7" cy="1400.4" r="5.2" fill="#000"/>
<text x="0" y="0" font-size="21.5" text-anchor="middle" textLength="253.5" lengthAdjust="spacingAndGlyphs" transform="translate(1409.9 1294.3) rotate(-90)">RUV.norm log count per mil</text>
<text x="0" y="0" font-size="23" font-weight="bold" text-anchor="end" transform="translate(1521.3 1484.9) rotate(-45)">controls</text>
<text x="0" y="0" font-size="23" font-weight="bold" text-anchor="end" transform="translate(1583.4 1484.9) rotate(-45)">PANS-preIVIG</text>
<text x="0" y="0" font-size="23" font-weight="bold" text-anchor="end" transform="translate(1646 1484.9) rotate(-45)">PANS-postIVIG</text>
<text x="1579" y="1730" font-size="29.3" font-weight="bold" text-anchor="middle">METTL3</text>
<g stroke="#000" stroke-width="2.5" fill="none">
<path d="M1474.2 1768.6 V2084.5"/>
<path d="M1461.7 2083.3 H1682.7"/>
<path d="M1461.7 2083.3 H1474.2"/>
<path d="M1461.7 2004.93 H1474.2"/>
<path d="M1461.7 1926.55 H1474.2"/>
<path d="M1461.7 1848.18 H1474.2"/>
<path d="M1461.7 1769.8 H1474.2"/>
<path d="M1515.2 2083.3 V2096.1"/>
<path d="M1578.1 2083.3 V2096.1"/>
<path d="M1641.4 2083.3 V2096.1"/>
<path d="M1496 1910.4 H1537"/>
<path d="M1557.5 1868.6 H1599.9"/>
<path d="M1621.2 1938.6 H1662.2"/>
</g>
<text x="0" y="0" font-size="24.5" font-weight="bold" text-anchor="end" transform="translate(1457.6 2092.5) scale(0.94 1)">5.4</text>
<text x="0" y="0" font-size="24.5" font-weight="bold" text-anchor="end" transform="translate(1457.6 2014.13) scale(0.94 1)">5.6</text>
<text x="0" y="0" font-size="24.5" font-weight="bold" text-anchor="end" transform="translate(1457.6 1935.75) scale(0.94 1)">5.8</text>
<text x="0" y="0" font-size="24.5" font-weight="bold" text-anchor="end" transform="translate(1457.6 1857.38) scale(0.94 1)">6.0</text>
<text x="0" y="0" font-size="24.5" font-weight="bold" text-anchor="end" transform="translate(1457.6 1779) scale(0.94 1)">6.2</text>
<circle cx="1515.7" cy="1858.3" r="5.2" fill="#000"/>
<circle cx="1499.8" cy="1882.7" r="5.2" fill="#000"/>
<circle cx="1515.7" cy="1878.3" r="5.2" fill="#000"/>
<circle cx="1531.9" cy="1876.8" r="5.2" fill="#000"/>
<circle cx="1531.9" cy="1905.8" r="5.2" fill="#000"/>
<circle cx="1515.7" cy="1915.2" r="5.2" fill="#000"/>
<circle cx="1499.8" cy="1937.3" r="5.2" fill="#000"/>
<circle cx="1515.7" cy="1940.4" r="5.2" fill="#000"/>
<circle cx="1531.9" cy="1938.6" r="5.2" fill="#000"/>
<circle cx="1515.7" cy="1953.2" r="5.2" fill="#000"/>
<circle cx="1562.2" cy="1821.1" r="5.2" fill="#000"/>
<circle cx="1578.6" cy="1820.3" r="5.2" fill="#000"/>
<circle cx="1594.7" cy="1822.4" r="5.2" fill="#000"/>
<circle cx="1562.2" cy="1868.6" r="5.2" fill="#000"/>
<circle cx="1578.6" cy="1869.8" r="5.2" fill="#000"/>
<circle cx="1594.7" cy="1869.3" r="5.2" fill="#000"/>
<circle cx="1578.6" cy="1884.5" r="5.2" fill="#000"/>
<circle cx="1586.8" cy="1918.6" r="5.2" fill="#000"/>
<circle cx="1570.4" cy="1927.1" r="5.2" fill="#000"/>
<circle cx="1641.7" cy="1867.3" r="5.2" fill="#000"/>
<circle cx="1631.9" cy="1901.1" r="5.2" fill="#000"/>
<circle cx="1650.7" cy="1898.6" r="5.2" fill="#000"/>
<circle cx="1641.7" cy="1922.4" r="5.2" fill="#000"/>
<circle cx="1641.7" cy="1939.1" r="5.2" fill="#000"/>
<circle cx="1641.7" cy="1995" r="5.2" fill="#000"/>
<circle cx="1631.9" cy="2005.3" r="5.2" fill="#000"/>
<circle cx="1650.7" cy="2010.4" r="5.2" fill="#000"/>
<circle cx="1641.7" cy="2059.2" r="5.2" fill="#000"/>
<text x="0" y="0" font-size="21.5" text-anchor="middle" textLength="253.5" lengthAdjust="spacingAndGlyphs" transform="translate(1410.1 1925.6) rotate(-90)">RUV.norm log count per mil</text>
<text x="0" y="0" font-size="23" font-weight="bold" text-anchor="end" transform="translate(1521.2 2116.1) rotate(-45)">controls</text>
<text x="0" y="0" font-size="23" font-weight="bold" text-anchor="end" transform="translate(1584.1 2116.1) rotate(-45)">PANS-preIVIG</text>
<text x="0" y="0" font-size="23" font-weight="bold" text-anchor="end" transform="translate(1647.4 2116.1) rotate(-45)">PANS-postIVIG</text>
</svg>
</body></html>
